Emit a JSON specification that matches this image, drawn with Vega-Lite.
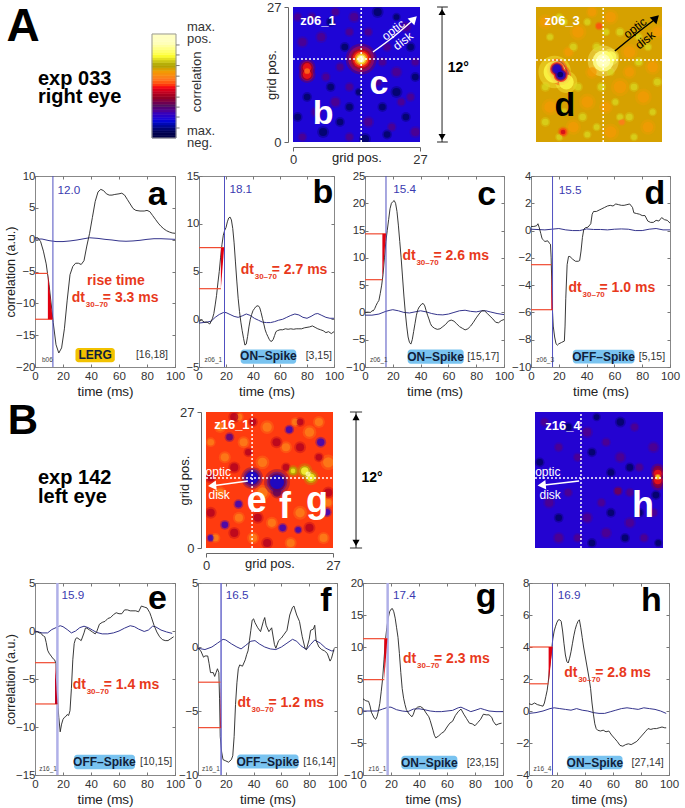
{"$schema":"https://vega.github.io/schema/vega-lite/v6.json","background":"white","padding":{"left":3,"top":1,"right":0,"bottom":0},
"config":{"font":"Liberation Sans","view":{"stroke":null},"axisX":{"labelPadding":6},"axis":{"domain":false,"grid":false,"tickSize":-3,"tickColor":"#777","labelFontSize":11.5,"labelColor":"#333","labelPadding":3,"labelOverlap":false,"labelBound":false,"labelFlush":false,"titleFontSize":13.5,"titleFontWeight":"normal","titleColor":"#222","titlePadding":3},
"style":{"L":{"fontSize":34,"fontWeight":"bold","align":"center","baseline":"alphabetic","color":"#000"},"B":{"fontSize":11.7,"align":"left","color":"#3a3ab0"},"Z":{"fontSize":6.5,"align":"left","color":"#444"},"K":{"fontSize":10.5,"align":"right","color":"#333"},"Q":{"fontSize":12,"fontWeight":"bold","align":"center","color":"#10203a"},"dt":{"fontSize":14,"fontWeight":"bold","align":"left","color":"#e8391c"},"sub":{"fontSize":8,"fontWeight":"bold","align":"left","color":"#e8391c","dx":14,"dy":7},"eq":{"fontSize":14,"fontWeight":"bold","align":"left","color":"#e8391c","dx":31},"R":{"fontSize":14,"fontWeight":"bold","align":"center","color":"#e8391c"},"big":{"fontSize":20,"fontWeight":"bold","align":"left","color":"#000"},"cap":{"fontSize":13,"align":"left","color":"#333"}}},
"datasets":{
"cb":[{"t":0,"t2":1,"v":-0.975,"a":-1,"b":-0.95},{"t":0,"t2":1,"v":-0.925,"a":-0.95,"b":-0.9},{"t":0,"t2":1,"v":-0.875,"a":-0.9,"b":-0.85},{"t":0,"t2":1,"v":-0.825,"a":-0.85,"b":-0.8},{"t":0,"t2":1,"v":-0.775,"a":-0.8,"b":-0.75},{"t":0,"t2":1,"v":-0.725,"a":-0.75,"b":-0.7},{"t":0,"t2":1,"v":-0.675,"a":-0.7,"b":-0.65},{"t":0,"t2":1,"v":-0.625,"a":-0.65,"b":-0.6},{"t":0,"t2":1,"v":-0.575,"a":-0.6,"b":-0.55},{"t":0,"t2":1,"v":-0.525,"a":-0.55,"b":-0.5},{"t":0,"t2":1,"v":-0.475,"a":-0.5,"b":-0.45},{"t":0,"t2":1,"v":-0.425,"a":-0.45,"b":-0.4},{"t":0,"t2":1,"v":-0.375,"a":-0.4,"b":-0.35},{"t":0,"t2":1,"v":-0.325,"a":-0.35,"b":-0.3},{"t":0,"t2":1,"v":-0.275,"a":-0.3,"b":-0.25},{"t":0,"t2":1,"v":-0.225,"a":-0.25,"b":-0.2},{"t":0,"t2":1,"v":-0.175,"a":-0.2,"b":-0.15},{"t":0,"t2":1,"v":-0.125,"a":-0.15,"b":-0.1},{"t":0,"t2":1,"v":-0.075,"a":-0.1,"b":-0.05},{"t":0,"t2":1,"v":-0.025,"a":-0.05,"b":0},{"t":0,"t2":1,"v":0.025,"a":0,"b":0.05},{"t":0,"t2":1,"v":0.075,"a":0.05,"b":0.1},{"t":0,"t2":1,"v":0.125,"a":0.1,"b":0.15},{"t":0,"t2":1,"v":0.175,"a":0.15,"b":0.2},{"t":0,"t2":1,"v":0.225,"a":0.2,"b":0.25},{"t":0,"t2":1,"v":0.275,"a":0.25,"b":0.3},{"t":0,"t2":1,"v":0.325,"a":0.3,"b":0.35},{"t":0,"t2":1,"v":0.375,"a":0.35,"b":0.4},{"t":0,"t2":1,"v":0.425,"a":0.4,"b":0.45},{"t":0,"t2":1,"v":0.475,"a":0.45,"b":0.5},{"t":0,"t2":1,"v":0.525,"a":0.5,"b":0.55},{"t":0,"t2":1,"v":0.575,"a":0.55,"b":0.6},{"t":0,"t2":1,"v":0.625,"a":0.6,"b":0.65},{"t":0,"t2":1,"v":0.675,"a":0.65,"b":0.7},{"t":0,"t2":1,"v":0.725,"a":0.7,"b":0.75},{"t":0,"t2":1,"v":0.775,"a":0.75,"b":0.8},{"t":0,"t2":1,"v":0.825,"a":0.8,"b":0.85},{"t":0,"t2":1,"v":0.875,"a":0.85,"b":0.9},{"t":0,"t2":1,"v":0.925,"a":0.9,"b":0.95},{"t":0,"t2":1,"v":0.975,"a":0.95,"b":1}],
"cbb":[{"t":0,"t2":1,"a":-1,"b":1}],
"cbt":[{"t":1,"t2":1.15,"v":0.789},{"t":1,"t2":1.15,"v":0.597},{"t":1,"t2":1.15,"v":0.393},{"t":1,"t2":1.15,"v":0.189},{"t":1,"t2":1.15,"v":-0.003},{"t":1,"t2":1.15,"v":-0.214},{"t":1,"t2":1.15,"v":-0.406},{"t":1,"t2":1.15,"v":-0.597},{"t":1,"t2":1.15,"v":-0.808}],
"an1":[{"k":"A","t":-5.375,"v":1.14,"s":"A"},{"k":"E","t":-4.75,"v":0.135,"s":"exp 033"},{"k":"E","t":-4.75,"v":-0.21,"s":"right eye"},{"k":"c","t":1.46,"v":1.135,"s":"max."},{"k":"c","t":1.46,"v":0.904,"s":"pos."},{"k":"c","t":1.46,"v":-0.865,"s":"max."},{"k":"c","t":1.46,"v":-1.096,"s":"neg."},{"k":"r","t":1.875,"v":0.077,"s":"correlation"}],
"an3":[{"k":"A","t":-0.07,"v":0.934,"s":"B"},{"k":"E","t":0.0175,"v":0.515,"s":"exp 142"},{"k":"E","t":0.0175,"v":0.375,"s":"left eye"}],
"ar1":[{"k":"s","x":0.19,"y":0,"y2":12},{"k":"c","x":0.147,"x2":0.24,"y":12},{"k":"c","x":0.147,"x2":0.24,"y":0},{"k":"u","x":0.19,"y":11.55},{"k":"d","x":0.19,"y":0.45},{"k":"l","x":0.33,"y":6.6,"s":"12°"}],
"ar3":[{"k":"s","x":0.114,"y":0,"y2":12},{"k":"c","x":0.084,"x2":0.144,"y":12},{"k":"c","x":0.084,"x2":0.144,"y":0},{"k":"u","x":0.114,"y":11.55},{"k":"d","x":0.114,"y":0.45},{"k":"l","x":0.193,"y":6.2,"s":"12°"}],
"h1":[{"x":13,"y":25,"v":-0.45,"w":3},{"x":6,"y":21,"v":-0.45,"w":3},{"x":24,"y":23,"v":-0.45,"w":3},{"x":19,"y":16,"v":-0.45,"w":2},{"x":22,"y":14,"v":-0.45,"w":3},{"x":10,"y":15,"v":-0.45,"w":2},{"x":2,"y":20,"v":-0.45,"w":3},{"x":16,"y":4,"v":-0.45,"w":3},{"x":23,"y":8,"v":-0.45,"w":2},{"x":5,"y":6,"v":-0.45,"w":3},{"x":12,"y":1,"v":-0.45,"w":2},{"x":26,"y":2,"v":-0.45,"w":3},{"x":18,"y":12,"v":-0.45,"w":2},{"x":9,"y":8,"v":-0.45,"w":3},{"x":25,"y":9,"v":-0.45,"w":2},{"x":2,"y":1,"v":-0.45,"w":2},{"x":20,"y":19,"v":-0.45,"w":2},{"x":1,"y":25,"v":-0.45,"w":2},{"x":16,"y":22,"v":-0.45,"w":2},{"x":9,"y":26,"v":-0.45,"w":2},{"x":12,"y":11,"v":-0.45,"w":2},{"x":21,"y":3,"v":-0.45,"w":2},{"x":4,"y":25,"v":-0.45,"w":2},{"x":12,"y":22,"v":-0.45,"w":2},{"x":26,"y":16,"v":-0.45,"w":2},{"x":7,"y":13,"v":-0.45,"w":2},{"x":18,"y":26,"v":-0.86,"w":3},{"x":22,"y":10,"v":-0.86,"w":3},{"x":15.3,"y":0.6,"v":-0.86,"w":3},{"x":6.4,"y":2,"v":-0.86,"w":3},{"x":3,"y":9,"v":-0.86,"w":2},{"x":1,"y":5,"v":-0.86,"w":2},{"x":10,"y":4,"v":-0.86,"w":2},{"x":24,"y":5,"v":-0.86,"w":2},{"x":19,"y":7,"v":-0.86,"w":2},{"x":12,"y":7,"v":-0.86,"w":2},{"x":25,"y":19,"v":-0.86,"w":2},{"x":8,"y":24,"v":-0.86,"w":2},{"x":22,"y":25,"v":-0.86,"w":1.5},{"x":11,"y":19,"v":-0.86,"w":2},{"x":26,"y":13,"v":-0.86,"w":2},{"x":20,"y":1.5,"v":-0.86,"w":2},{"x":8,"y":11,"v":-0.86,"w":2},{"x":14,"y":10,"v":-0.86,"w":1.5},{"x":3,"y":14.9,"v":-0.2,"w":6},{"x":3,"y":13.5,"v":-0.2,"w":6},{"x":3,"y":14.9,"v":0,"w":3.5},{"x":3,"y":13.5,"v":0,"w":3.5},{"x":3,"y":14.2,"v":0.13,"w":1.5},{"x":14.5,"y":16.6,"v":-0.2,"w":20},{"x":14.5,"y":16.6,"v":0,"w":14},{"x":14.5,"y":16.6,"v":0.2,"w":9},{"x":14.5,"y":16.6,"v":0.55,"w":5},{"x":14.5,"y":16.6,"v":0.85,"w":2.5},{"x":14.5,"y":16.6,"v":1,"w":1.2}],
"t1":[{"k":"V","x":14.5,"y":0,"y2":27},{"k":"H","x":0,"x2":27,"y":16.6},{"k":"a","x":17,"y":18},{"k":"a","x":21.3,"y":21},{"k":"a","x":25.3,"y":24.2},{"k":"T","x":25.5,"y":24.4},{"k":"o","x":21.3,"y":22.4,"s":"optic"},{"k":"o","x":23.4,"y":20.2,"s":"disk"},{"k":"z","x":5.3,"y":24.2,"s":"z06_1"},{"k":"l","x":6.4,"y":5.6,"s":"b"},{"k":"l","x":18.3,"y":11.6,"s":"c"}],
"h2":[{"x":2,"y":24,"v":0.27,"w":5},{"x":9,"y":22,"v":0.27,"w":6},{"x":16,"y":25,"v":0.27,"w":5},{"x":20,"y":18,"v":0.27,"w":6},{"x":25,"y":15,"v":0.27,"w":5},{"x":18,"y":11,"v":0.27,"w":7},{"x":23,"y":9,"v":0.27,"w":6},{"x":11,"y":8,"v":0.27,"w":6},{"x":3,"y":7,"v":0.27,"w":6},{"x":8,"y":3,"v":0.27,"w":5},{"x":16,"y":2,"v":0.27,"w":6},{"x":24,"y":3,"v":0.27,"w":5},{"x":12,"y":14,"v":0.27,"w":4},{"x":20,"y":14,"v":0.27,"w":4},{"x":26,"y":22,"v":0.27,"w":4},{"x":12,"y":26,"v":0.27,"w":3},{"x":7,"y":18,"v":0.27,"w":3},{"x":15,"y":7,"v":0.27,"w":4},{"x":3,"y":21,"v":0.5,"w":1.5},{"x":5,"y":25,"v":0.5,"w":1.5},{"x":8,"y":19,"v":0.5,"w":2},{"x":11,"y":24,"v":0.5,"w":1.5},{"x":13,"y":19,"v":0.5,"w":2},{"x":18,"y":22,"v":0.5,"w":2},{"x":22,"y":16,"v":0.5,"w":2},{"x":26,"y":12,"v":0.5,"w":2},{"x":21,"y":11,"v":0.5,"w":2},{"x":17,"y":8,"v":0.5,"w":1.5},{"x":14,"y":11,"v":0.5,"w":2},{"x":9,"y":11,"v":0.5,"w":2},{"x":2,"y":11,"v":0.5,"w":2},{"x":2,"y":4,"v":0.5,"w":2},{"x":10,"y":5,"v":0.5,"w":2},{"x":13,"y":3,"v":0.5,"w":1.5},{"x":20,"y":5,"v":0.5,"w":2},{"x":25,"y":6,"v":0.5,"w":1.5},{"x":5,"y":1,"v":0.5,"w":1.5},{"x":21,"y":1,"v":0.5,"w":1.5},{"x":24,"y":19,"v":0.5,"w":1.5},{"x":16,"y":14,"v":0.5,"w":1.5},{"x":6,"y":24,"v":0.5,"w":1.5},{"x":15,"y":22,"v":0.5,"w":1.5},{"x":22,"y":21,"v":0.5,"w":1.5},{"x":11,"y":1.5,"v":0.5,"w":1.5},{"x":18,"y":5,"v":0.5,"w":1.5},{"x":6,"y":6,"v":0.5,"w":1.5},{"x":4,"y":14,"v":0.62,"w":22},{"x":6.5,"y":12,"v":0.62,"w":10},{"x":4.5,"y":14.6,"v":0,"w":9},{"x":5.3,"y":13.4,"v":0,"w":9},{"x":4.5,"y":14.6,"v":-0.4,"w":6},{"x":5.3,"y":13.4,"v":-0.4,"w":6},{"x":4.5,"y":14.6,"v":-0.65,"w":3.5},{"x":5.3,"y":13.4,"v":-0.65,"w":3.5},{"x":5.2,"y":13.5,"v":-0.92,"w":1.5},{"x":14.4,"y":16.2,"v":0.72,"w":20},{"x":16,"y":17,"v":0.65,"w":6},{"x":14.4,"y":16.2,"v":0.9,"w":9},{"x":14.4,"y":16.2,"v":1,"w":4},{"x":5.8,"y":2,"v":0.05,"w":2.5},{"x":5.8,"y":2,"v":-0.1,"w":1},{"x":13.5,"y":23.2,"v":0.05,"w":1.5},{"x":18.4,"y":4,"v":0.14,"w":1.2}],
"t2":[{"k":"V","x":14.4,"y":0,"y2":27},{"k":"H","x":0,"x2":27,"y":16.4},{"k":"a","x":16.9,"y":18.2},{"k":"a","x":21.4,"y":21.6},{"k":"a","x":25.3,"y":24.4},{"k":"T","x":25.5,"y":24.6},{"k":"o","x":21.2,"y":22.8,"s":"optic"},{"k":"o","x":23.4,"y":20.4,"s":"disk"},{"k":"z","x":5.6,"y":24.2,"s":"z06_3"},{"k":"l","x":6.2,"y":7.2,"s":"d"}],
"h3":[{"x":3,"y":24,"v":0.17,"w":3},{"x":8,"y":21,"v":0.17,"w":3},{"x":13,"y":24,"v":0.17,"w":4},{"x":17,"y":20,"v":0.17,"w":3},{"x":22,"y":23,"v":0.17,"w":4},{"x":26,"y":17,"v":0.17,"w":5},{"x":24,"y":25,"v":0.17,"w":3},{"x":4,"y":18,"v":0.17,"w":3},{"x":12,"y":17,"v":0.17,"w":4},{"x":12,"y":11,"v":0.17,"w":5},{"x":3,"y":11,"v":0.17,"w":3},{"x":7,"y":6,"v":0.17,"w":3},{"x":14,"y":5,"v":0.17,"w":3},{"x":20,"y":7,"v":0.17,"w":4},{"x":25,"y":2,"v":0.17,"w":3},{"x":10,"y":2,"v":0.17,"w":3},{"x":18,"y":1,"v":0.17,"w":3},{"x":2,"y":2,"v":0.17,"w":2},{"x":19,"y":25,"v":0.17,"w":2},{"x":7,"y":26,"v":0.17,"w":2},{"x":26,"y":9,"v":0.17,"w":2},{"x":1,"y":21,"v":0.17,"w":2},{"x":6,"y":26,"v":-0.15,"w":3},{"x":10,"y":25,"v":-0.15,"w":2},{"x":20,"y":25,"v":-0.15,"w":2},{"x":15,"y":21,"v":-0.15,"w":3},{"x":6,"y":16,"v":-0.15,"w":3},{"x":20,"y":20,"v":-0.15,"w":3},{"x":1,"y":14,"v":-0.15,"w":3},{"x":6,"y":3,"v":-0.15,"w":3},{"x":11,"y":6,"v":-0.15,"w":3},{"x":22,"y":4,"v":-0.15,"w":3},{"x":13,"y":1,"v":-0.15,"w":3},{"x":26,"y":11,"v":-0.15,"w":3},{"x":1,"y":7,"v":-0.15,"w":3},{"x":17,"y":16,"v":-0.15,"w":2},{"x":24,"y":18,"v":-0.15,"w":2},{"x":9,"y":19,"v":-0.15,"w":2},{"x":5,"y":22,"v":-0.45,"w":2},{"x":17.7,"y":23.5,"v":-0.55,"w":2},{"x":24.4,"y":21,"v":-0.55,"w":2.5},{"x":6.9,"y":8.7,"v":-0.55,"w":2},{"x":4,"y":4.6,"v":-0.55,"w":2},{"x":16.3,"y":4,"v":-0.55,"w":2},{"x":19.6,"y":3.6,"v":-0.55,"w":1.5},{"x":25.7,"y":7.1,"v":-0.55,"w":2},{"x":1,"y":2,"v":-0.55,"w":1.5},{"x":15.1,"y":13.1,"v":-0.35,"w":14},{"x":15.1,"y":11,"v":-0.35,"w":3},{"x":9.8,"y":13.9,"v":-0.4,"w":10},{"x":9.8,"y":13.9,"v":-0.66,"w":7},{"x":15.1,"y":13.1,"v":-0.66,"w":9},{"x":18.5,"y":15.3,"v":0.38,"w":3},{"x":18.5,"y":15.3,"v":0.55,"w":1},{"x":21,"y":15.3,"v":0.38,"w":5},{"x":22.3,"y":14,"v":0.38,"w":5},{"x":21,"y":15.3,"v":0.6,"w":2.5},{"x":22.3,"y":14,"v":0.6,"w":2.5},{"x":21.7,"y":14.7,"v":0.8,"w":1.2}],
"t3":[{"k":"V","x":9.8,"y":0,"y2":27},{"k":"H","x":0,"x2":27,"y":13.9},{"k":"a","x":8.9,"y":13.3},{"k":"a","x":1.9,"y":12.4},{"k":"T","x":1.6,"y":12.4},{"k":"o","x":2.6,"y":15,"s":"optic"},{"k":"o","x":2.8,"y":10.5,"s":"disk"},{"k":"z","x":5.5,"y":24.4,"s":"z16_1"},{"k":"l","x":10.8,"y":9.3,"s":"e"},{"k":"l","x":16.8,"y":8.1,"s":"f"},{"k":"l","x":23.6,"y":9.3,"s":"g"}],
"h4":[{"x":11,"y":23,"v":-0.45,"w":3},{"x":15,"y":21,"v":-0.45,"w":2},{"x":5,"y":20,"v":-0.45,"w":2},{"x":21,"y":24,"v":-0.45,"w":2},{"x":25,"y":20,"v":-0.45,"w":3},{"x":9,"y":18,"v":-0.45,"w":2},{"x":18,"y":18,"v":-0.45,"w":3},{"x":22,"y":16,"v":-0.45,"w":2},{"x":3,"y":9,"v":-0.45,"w":3},{"x":7,"y":11,"v":-0.45,"w":2},{"x":14,"y":9,"v":-0.45,"w":2},{"x":17.5,"y":11.3,"v":-0.3,"w":2},{"x":11,"y":6,"v":-0.45,"w":3},{"x":20,"y":5,"v":-0.45,"w":3},{"x":25,"y":7,"v":-0.45,"w":2},{"x":15,"y":3,"v":-0.45,"w":3},{"x":5,"y":2,"v":-0.45,"w":3},{"x":23,"y":2,"v":-0.45,"w":2},{"x":9,"y":2,"v":-0.45,"w":2},{"x":2,"y":25,"v":-0.45,"w":2},{"x":20,"y":11,"v":-0.45,"w":2},{"x":18,"y":25,"v":-0.86,"w":2.5},{"x":20,"y":16,"v":-0.86,"w":2},{"x":1,"y":17,"v":-0.86,"w":2},{"x":7,"y":24,"v":-0.86,"w":2},{"x":13,"y":26,"v":-0.86,"w":1.5},{"x":12,"y":19,"v":-0.86,"w":2},{"x":16,"y":15,"v":-0.86,"w":2},{"x":25.5,"y":10.5,"v":-0.86,"w":2},{"x":16,"y":7,"v":-0.86,"w":2},{"x":22,"y":7,"v":-0.86,"w":2},{"x":5,"y":6,"v":-0.86,"w":2},{"x":12,"y":1,"v":-0.86,"w":2},{"x":19,"y":2,"v":-0.86,"w":2},{"x":26,"y":1,"v":-0.86,"w":1.5},{"x":25.9,"y":12.8,"v":-0.25,"w":4},{"x":25.9,"y":14.1,"v":-0.25,"w":4},{"x":25.9,"y":15.4,"v":-0.25,"w":4},{"x":25.9,"y":13.4,"v":0,"w":2.5},{"x":25.9,"y":14.8,"v":0,"w":2.5},{"x":25.9,"y":14.1,"v":0.2,"w":1.5},{"x":25.9,"y":14.1,"v":0.55,"w":0.7}],
"t4":[{"k":"V","x":9.7,"y":0,"y2":27},{"k":"H","x":0,"x2":27,"y":13.9},{"k":"a","x":9.3,"y":13.3},{"k":"a","x":2,"y":12.5},{"k":"T","x":1.7,"y":12.5},{"k":"o","x":2.7,"y":15.1,"s":"optic"},{"k":"o","x":3.2,"y":10.5,"s":"disk"},{"k":"z","x":5.9,"y":24.2,"s":"z16_4"},{"k":"l","x":22.8,"y":8.3,"s":"h"}],
"a":[{"t":0,"v":0.3},{"t":2,"v":0.3},{"t":4,"v":-0.3},{"t":6,"v":-1.8},{"t":8,"v":-3.8},{"t":10,"v":-7},{"t":12,"v":-11},{"t":13,"v":-13},{"t":15,"v":-16.5},{"t":17,"v":-17.8},{"t":19,"v":-17},{"t":21,"v":-14},{"t":23,"v":-9.5},{"t":25,"v":-5.5},{"t":27,"v":-4.2},{"t":29,"v":-3.7},{"t":31,"v":-3.7},{"t":33,"v":-3.9},{"t":35,"v":-3.3},{"t":37,"v":-1},{"t":39,"v":1},{"t":41,"v":3.5},{"t":43,"v":6},{"t":45,"v":7.5},{"t":47,"v":7.9},{"t":49,"v":7.7},{"t":51,"v":7.2},{"t":53,"v":7},{"t":55,"v":7},{"t":57,"v":7.1},{"t":60,"v":7.2},{"t":62,"v":7.3},{"t":64,"v":7},{"t":66,"v":6.3},{"t":68,"v":5.6},{"t":70,"v":4.9},{"t":72,"v":4.6},{"t":75,"v":4.5},{"t":78,"v":4.5},{"t":80,"v":4.6},{"t":82,"v":4.4},{"t":84,"v":3.8},{"t":86,"v":3.2},{"t":88,"v":2.6},{"t":90,"v":2.1},{"t":92,"v":1.7},{"t":94,"v":1.4},{"t":96,"v":1.2},{"t":98,"v":1.05},{"t":100,"v":1}],
"a_n":[{"t":0,"v":0.1},{"t":5,"v":0.1},{"t":10,"v":-0.15},{"t":15,"v":-0.3},{"t":20,"v":-0.3},{"t":25,"v":-0.2},{"t":30,"v":-0.05},{"t":35,"v":0.15},{"t":39,"v":0.3},{"t":45,"v":0.2},{"t":50,"v":0.05},{"t":55,"v":-0.05},{"t":60,"v":-0.2},{"t":65,"v":-0.25},{"t":70,"v":-0.2},{"t":75,"v":-0.1},{"t":80,"v":0.05},{"t":85,"v":0.15},{"t":90,"v":0.15},{"t":95,"v":0.1},{"t":100,"v":0.05}],
"a_m":[{"k":"m","t":12.8,"v":-20,"v2":10},{"k":"h","t":0,"t2":9.2,"v":-5.3},{"k":"h","t":0,"t2":12.6,"v":-12.5},{"k":"w","t":9.2,"t2":9.2,"v":-5.3},{"k":"w","t":9.2,"t2":12.6,"v":-12.5},{"k":"P","t":28.9,"t2":57,"v":-17,"v2":-19.27},{"k":"Q","t":43,"v":-18.1,"s":"LERG"},{"k":"K","t":95,"v":-18.1,"s":"[16,18]"},{"k":"Z","t":5,"v":-18.85,"s":"b06"},{"k":"B","t":16.1,"v":7.75,"s":"12.0"},{"k":"L","t":87.2,"v":5.46,"s":"a"},{"k":"D","t":26.3,"v":-9.1,"s":"= 3.3 ms"},{"k":"R","t":57.8,"v":-6.5,"s":"rise time"}],
"b":[{"t":0,"v":-0.2},{"t":2,"v":-0.1},{"t":4,"v":-0.3},{"t":6,"v":-0.3},{"t":8,"v":-0.5},{"t":9,"v":-0.2},{"t":10,"v":0.1},{"t":11,"v":0.6},{"t":12,"v":1.5},{"t":13,"v":2.5},{"t":14,"v":3.8},{"t":15,"v":5},{"t":16,"v":6.5},{"t":17,"v":7.8},{"t":18,"v":8.8},{"t":19,"v":9.3},{"t":20,"v":9.6},{"t":21,"v":10.2},{"t":22,"v":10.6},{"t":23,"v":10.7},{"t":24,"v":10.4},{"t":25,"v":9.5},{"t":26,"v":8},{"t":27,"v":6},{"t":28,"v":4},{"t":29,"v":2.2},{"t":30,"v":0.8},{"t":31,"v":-0.3},{"t":32,"v":-1.2},{"t":33,"v":-2},{"t":34,"v":-2.7},{"t":35,"v":-2.6},{"t":36,"v":-1.8},{"t":37,"v":-0.8},{"t":38,"v":0},{"t":39,"v":0.5},{"t":40,"v":0.9},{"t":41,"v":1.1},{"t":42,"v":1.3},{"t":43,"v":1.4},{"t":44,"v":1.4},{"t":45,"v":1.2},{"t":46,"v":0.7},{"t":47,"v":0.1},{"t":48,"v":-0.5},{"t":49,"v":-1.1},{"t":50,"v":-1.5},{"t":51,"v":-1.8},{"t":52,"v":-2.1},{"t":53,"v":-2.3},{"t":54,"v":-2.3},{"t":55,"v":-2.1},{"t":56,"v":-1.7},{"t":57,"v":-1.3},{"t":58,"v":-1.2},{"t":60,"v":-1.1},{"t":62,"v":-1.1},{"t":64,"v":-1},{"t":66,"v":-1.05},{"t":68,"v":-1},{"t":70,"v":-1.05},{"t":72,"v":-1},{"t":74,"v":-1},{"t":76,"v":-1},{"t":78,"v":-0.9},{"t":80,"v":-0.85},{"t":82,"v":-0.8},{"t":84,"v":-0.7},{"t":86,"v":-0.85},{"t":88,"v":-1},{"t":90,"v":-1.1},{"t":92,"v":-1.2},{"t":94,"v":-1.4},{"t":96,"v":-1.3},{"t":98,"v":-1.5},{"t":100,"v":-1.3}],
"b_n":[{"t":0,"v":-0.4},{"t":3,"v":-0.35},{"t":6,"v":-0.3},{"t":9,"v":-0.2},{"t":12,"v":0.2},{"t":15,"v":0.5},{"t":18,"v":0.7},{"t":20,"v":0.7},{"t":23,"v":0.5},{"t":26,"v":0.3},{"t":29,"v":0.2},{"t":32,"v":0.35},{"t":35,"v":0.55},{"t":38,"v":0.4},{"t":41,"v":0.1},{"t":44,"v":-0.1},{"t":47,"v":-0.3},{"t":50,"v":-0.35},{"t":53,"v":-0.35},{"t":56,"v":-0.25},{"t":59,"v":-0.1},{"t":62,"v":0},{"t":65,"v":0.2},{"t":68,"v":0.4},{"t":71,"v":0.55},{"t":74,"v":0.45},{"t":77,"v":0.2},{"t":80,"v":0.1},{"t":83,"v":0.3},{"t":86,"v":0.55},{"t":88,"v":0.6},{"t":91,"v":0.4},{"t":94,"v":0.2},{"t":97,"v":0.1},{"t":100,"v":0.1}],
"b_m":[{"k":"m","t":18.9,"v":-5,"v2":15},{"k":"h","t":0,"t2":18.6,"v":7.5},{"k":"h","t":0,"t2":16.2,"v":3.2},{"k":"w","t":16.2,"t2":18.6,"v":7.5},{"k":"w","t":16.2,"t2":16.2,"v":3.2},{"k":"P","t":30.9,"t2":72,"v":-3.18,"v2":-4.65},{"k":"Q","t":51.4,"v":-3.9,"s":"ON–Spike"},{"k":"K","t":98.5,"v":-3.9,"s":"[3,15]"},{"k":"Z","t":4,"v":-4.3,"s":"z06_1"},{"k":"B","t":22.5,"v":13.6,"s":"18.1"},{"k":"L","t":91.7,"v":12.2,"s":"b"},{"k":"D","t":30.9,"v":5.2,"s":"= 2.7 ms"}],
"c":[{"t":0,"v":0},{"t":2,"v":0.05},{"t":4,"v":0},{"t":5,"v":0.3},{"t":6,"v":0.3},{"t":7,"v":0.7},{"t":8,"v":1.3},{"t":9,"v":1.8},{"t":10,"v":2.2},{"t":11,"v":3.5},{"t":12,"v":5},{"t":13,"v":7},{"t":14,"v":10},{"t":15,"v":13},{"t":16,"v":15},{"t":17,"v":17},{"t":18,"v":19},{"t":19,"v":20},{"t":20,"v":20.3},{"t":21,"v":20.5},{"t":22,"v":20},{"t":23,"v":18.5},{"t":24,"v":16},{"t":25,"v":13},{"t":26,"v":10},{"t":27,"v":6.5},{"t":28,"v":3},{"t":29,"v":0},{"t":30,"v":-2.5},{"t":31,"v":-4.5},{"t":32,"v":-5.5},{"t":33,"v":-5.8},{"t":34,"v":-5},{"t":35,"v":-3.5},{"t":36,"v":-2},{"t":37,"v":-0.5},{"t":38,"v":0.5},{"t":39,"v":1},{"t":41,"v":1.6},{"t":42,"v":1.6},{"t":43,"v":1.2},{"t":44,"v":0.3},{"t":45,"v":-0.5},{"t":46,"v":-1.2},{"t":47,"v":-2},{"t":48,"v":-2.5},{"t":50,"v":-2.9},{"t":52,"v":-3.1},{"t":54,"v":-3},{"t":56,"v":-2.6},{"t":58,"v":-2.2},{"t":60,"v":-1.6},{"t":62,"v":-1.4},{"t":64,"v":-1.6},{"t":66,"v":-2.1},{"t":68,"v":-2.6},{"t":70,"v":-2.9},{"t":72,"v":-3.2},{"t":74,"v":-3},{"t":76,"v":-2.5},{"t":78,"v":-1.8},{"t":80,"v":-1},{"t":82,"v":-0.3},{"t":84,"v":0.3},{"t":86,"v":0.3},{"t":88,"v":-0.2},{"t":90,"v":-0.7},{"t":92,"v":-1.2},{"t":94,"v":-1.8},{"t":96,"v":-1.9},{"t":98,"v":-1.5},{"t":100,"v":-1.3}],
"c_n":[{"t":0,"v":-0.5},{"t":5,"v":-0.5},{"t":10,"v":-0.3},{"t":15,"v":0.2},{"t":18,"v":0.4},{"t":20,"v":0.5},{"t":24,"v":0.3},{"t":28,"v":0},{"t":32,"v":-0.1},{"t":36,"v":0.1},{"t":40,"v":0.3},{"t":44,"v":0.1},{"t":48,"v":-0.2},{"t":52,"v":-0.4},{"t":56,"v":-0.45},{"t":60,"v":-0.3},{"t":64,"v":0},{"t":68,"v":0.3},{"t":72,"v":0.4},{"t":76,"v":0.2},{"t":80,"v":0.1},{"t":84,"v":0.3},{"t":87,"v":0.3},{"t":90,"v":0.1},{"t":95,"v":-0.2},{"t":100,"v":-0.4}],
"c_m":[{"k":"m","t":15.1,"v":-10,"v2":25},{"k":"h","t":0,"t2":15.1,"v":14.4},{"k":"h","t":0,"t2":12.5,"v":6},{"k":"w","t":12.5,"t2":15.1,"v":14.4},{"k":"w","t":12.5,"t2":12.5,"v":6},{"k":"P","t":30.7,"t2":71,"v":-6.8,"v2":-9.4},{"k":"Q","t":50.8,"v":-8.1,"s":"ON–Spike"},{"k":"K","t":96.6,"v":-8.1,"s":"[15,17]"},{"k":"Z","t":3.6,"v":-8.8,"s":"z06_1"},{"k":"B","t":20.4,"v":22.55,"s":"15.4"},{"k":"L","t":87.5,"v":19.7,"s":"c"},{"k":"D","t":26.9,"v":10.3,"s":"= 2.6 ms"}],
"d":[{"t":0,"v":0.3},{"t":2,"v":0.3},{"t":4,"v":0.35},{"t":5,"v":0.5},{"t":6,"v":0.2},{"t":7,"v":-0.2},{"t":8,"v":-0.6},{"t":9,"v":-0.7},{"t":10,"v":-0.8},{"t":12,"v":-0.75},{"t":13,"v":-0.9},{"t":14,"v":-1},{"t":14.5,"v":-2},{"t":15,"v":-4},{"t":15.5,"v":-6},{"t":16,"v":-7},{"t":17,"v":-7.8},{"t":18,"v":-8.3},{"t":19,"v":-8.4},{"t":20,"v":-8.3},{"t":22,"v":-8.2},{"t":24,"v":-8.1},{"t":24.5,"v":-7},{"t":25,"v":-5},{"t":26,"v":-2.5},{"t":27,"v":-1.9},{"t":28,"v":-1.9},{"t":30,"v":-2.1},{"t":32,"v":-2.25},{"t":34,"v":-2.25},{"t":35,"v":-2.2},{"t":36,"v":-1.5},{"t":37,"v":-0.5},{"t":38,"v":0.1},{"t":39,"v":0.2},{"t":41,"v":0.25},{"t":43,"v":0.5},{"t":44,"v":1.2},{"t":45,"v":1.4},{"t":47,"v":1.4},{"t":49,"v":1.5},{"t":51,"v":1.6},{"t":53,"v":1.7},{"t":55,"v":1.8},{"t":57,"v":1.85},{"t":59,"v":1.8},{"t":61,"v":1.95},{"t":63,"v":1.9},{"t":65,"v":1.85},{"t":67,"v":1.85},{"t":69,"v":1.9},{"t":71,"v":1.95},{"t":73,"v":1.7},{"t":74,"v":1.3},{"t":76,"v":1.25},{"t":78,"v":1.2},{"t":80,"v":1.1},{"t":82,"v":1.1},{"t":84,"v":0.7},{"t":86,"v":0.6},{"t":88,"v":0.6},{"t":90,"v":0.75},{"t":92,"v":0.7},{"t":94,"v":0.95},{"t":96,"v":0.8},{"t":98,"v":0.75},{"t":100,"v":0.55}],
"d_n":[{"t":0,"v":0.1},{"t":10,"v":0.05},{"t":15,"v":0.1},{"t":20,"v":0.15},{"t":25,"v":0.05},{"t":30,"v":0},{"t":35,"v":0},{"t":40,"v":0.12},{"t":45,"v":0.08},{"t":50,"v":0.08},{"t":55,"v":0.05},{"t":60,"v":0.1},{"t":65,"v":0.12},{"t":70,"v":0.1},{"t":75,"v":0},{"t":80,"v":0},{"t":85,"v":0.1},{"t":90,"v":0.15},{"t":95,"v":0.05},{"t":100,"v":0.05}],
"d_m":[{"k":"m","t":15.5,"v":-10,"v2":4},{"k":"h","t":0,"t2":14.6,"v":-2.5},{"k":"h","t":0,"t2":15.5,"v":-5.8},{"k":"w","t":14.6,"t2":14.6,"v":-2.5},{"k":"w","t":14.6,"t2":15.5,"v":-5.8},{"k":"P","t":30.1,"t2":74.4,"v":-8.73,"v2":-9.75},{"k":"Q","t":52.2,"v":-9.24,"s":"OFF–Spike"},{"k":"K","t":96.5,"v":-9.24,"s":"[5,15]"},{"k":"Z","t":3.8,"v":-9.5,"s":"z06_3"},{"k":"B","t":19.9,"v":3,"s":"15.5"},{"k":"L","t":89.2,"v":1.94,"s":"d"},{"k":"D","t":27,"v":-4.2,"s":"= 1.0 ms"}],
"e":[{"t":0,"v":-0.1},{"t":2,"v":-0.1},{"t":3,"v":-0.2},{"t":4,"v":-0.2},{"t":5,"v":-0.4},{"t":6,"v":-0.5},{"t":7,"v":-0.6},{"t":8,"v":-1.2},{"t":9,"v":-2},{"t":10,"v":-2.3},{"t":11,"v":-2.5},{"t":12,"v":-2.7},{"t":13,"v":-2.9},{"t":14,"v":-3},{"t":15,"v":-3.4},{"t":16,"v":-6},{"t":16.5,"v":-8},{"t":17,"v":-9},{"t":18,"v":-10.5},{"t":19,"v":-9.7},{"t":20,"v":-9.2},{"t":21,"v":-9},{"t":22,"v":-8.9},{"t":23,"v":-8.7},{"t":24,"v":-8.8},{"t":25,"v":-8.3},{"t":26,"v":-6},{"t":27,"v":-3},{"t":28,"v":-1.3},{"t":29,"v":-0.8},{"t":30,"v":-0.7},{"t":32,"v":-0.9},{"t":33,"v":-1},{"t":35,"v":-0.2},{"t":36,"v":0.3},{"t":37,"v":0.3},{"t":39,"v":0.1},{"t":41,"v":-0.1},{"t":43,"v":-0.3},{"t":44,"v":-0.1},{"t":45,"v":0.3},{"t":46,"v":0.7},{"t":48,"v":0.9},{"t":50,"v":1},{"t":52,"v":1.3},{"t":54,"v":1.4},{"t":56,"v":1.7},{"t":58,"v":1.9},{"t":60,"v":1.8},{"t":62,"v":1.8},{"t":64,"v":2.2},{"t":66,"v":2.2},{"t":68,"v":2.1},{"t":70,"v":2.1},{"t":72,"v":2.1},{"t":74,"v":2},{"t":76,"v":2.6},{"t":78,"v":2.5},{"t":80,"v":2.4},{"t":82,"v":1.9},{"t":83,"v":1.5},{"t":85,"v":0.6},{"t":87,"v":-0.1},{"t":89,"v":-0.6},{"t":91,"v":-0.9},{"t":93,"v":-1},{"t":95,"v":-1},{"t":97,"v":-0.8},{"t":99,"v":-0.6}],
"e_n":[{"t":0,"v":0},{"t":5,"v":-0.2},{"t":9,"v":-0.2},{"t":12,"v":0.15},{"t":15,"v":0.35},{"t":18,"v":0.55},{"t":20,"v":0.45},{"t":23,"v":0.15},{"t":26,"v":-0.2},{"t":29,"v":0},{"t":32,"v":0.35},{"t":35,"v":0.5},{"t":38,"v":0.35},{"t":41,"v":0.1},{"t":44,"v":-0.15},{"t":48,"v":-0.3},{"t":52,"v":-0.3},{"t":56,"v":-0.2},{"t":60,"v":0},{"t":64,"v":0.3},{"t":68,"v":0.55},{"t":71,"v":0.45},{"t":74,"v":0.2},{"t":78,"v":-0.05},{"t":81,"v":0.1},{"t":84,"v":0.5},{"t":86,"v":0.45},{"t":90,"v":0.1},{"t":94,"v":-0.1},{"t":98,"v":-0.25}],
"e_m":[{"k":"m","t":16,"v":-15,"v2":5},{"k":"h","t":0,"t2":14.3,"v":-3.3},{"k":"h","t":0,"t2":16,"v":-7.6},{"k":"w","t":14.3,"t2":14.3,"v":-3.3},{"k":"w","t":14.3,"t2":16,"v":-7.6},{"k":"P","t":27.9,"t2":71.4,"v":-12.9,"v2":-14.4},{"k":"Q","t":49.6,"v":-13.65,"s":"OFF–Spike"},{"k":"K","t":98,"v":-13.65,"s":"[10,15]"},{"k":"Z","t":3,"v":-14.4,"s":"z16_1"},{"k":"B","t":19,"v":3.75,"s":"15.9"},{"k":"L","t":87.4,"v":2.3,"s":"e"},{"k":"D","t":26.9,"v":-5.6,"s":"= 1.4 ms"}],
"f":[{"t":0,"v":-0.1},{"t":2,"v":-0.3},{"t":4,"v":-0.8},{"t":5,"v":-0.7},{"t":7,"v":-0.7},{"t":8,"v":-1.3},{"t":9,"v":-2},{"t":10,"v":-2},{"t":11,"v":-2},{"t":12,"v":-2.3},{"t":13,"v":-2},{"t":14,"v":-1.7},{"t":15,"v":-2},{"t":15.5,"v":-4},{"t":16,"v":-7},{"t":17,"v":-8.2},{"t":18,"v":-8.8},{"t":20,"v":-8.9},{"t":22,"v":-9},{"t":24,"v":-8.8},{"t":25,"v":-8.5},{"t":26,"v":-7},{"t":27,"v":-4.5},{"t":28,"v":-2.8},{"t":29,"v":-1.7},{"t":30,"v":-1.4},{"t":32,"v":-1.5},{"t":34,"v":-1},{"t":35,"v":-0.6},{"t":36,"v":-0.3},{"t":37,"v":0.5},{"t":38,"v":1.3},{"t":39,"v":2.1},{"t":40,"v":2.2},{"t":41,"v":1.9},{"t":43,"v":1.5},{"t":45,"v":1.2},{"t":47,"v":2},{"t":48,"v":2.3},{"t":49,"v":1.7},{"t":51,"v":1.2},{"t":53,"v":1.5},{"t":55,"v":0.2},{"t":56,"v":-0.1},{"t":58,"v":0.5},{"t":60,"v":0.7},{"t":62,"v":1},{"t":64,"v":1.3},{"t":66,"v":2.5},{"t":68,"v":3.1},{"t":69,"v":3.2},{"t":71,"v":2.5},{"t":73,"v":2},{"t":75,"v":0.8},{"t":77,"v":-0.1},{"t":78,"v":-0.2},{"t":80,"v":0.6},{"t":81,"v":1.3},{"t":83,"v":1.4},{"t":84,"v":1.7},{"t":85,"v":0.5},{"t":87,"v":0},{"t":89,"v":-0.2},{"t":91,"v":-0.3},{"t":93,"v":-0.5},{"t":95,"v":-1.1},{"t":96,"v":-0.9},{"t":98,"v":-0.1}],
"f_n":[{"t":0,"v":-0.1},{"t":5,"v":-0.2},{"t":10,"v":0},{"t":14,"v":0.3},{"t":18,"v":0.6},{"t":20,"v":0.55},{"t":24,"v":0.25},{"t":28,"v":0},{"t":31,"v":-0.15},{"t":34,"v":0.1},{"t":38,"v":0.45},{"t":41,"v":0.5},{"t":44,"v":0.25},{"t":48,"v":0},{"t":52,"v":-0.15},{"t":56,"v":-0.2},{"t":60,"v":0},{"t":64,"v":0.3},{"t":68,"v":0.6},{"t":71,"v":0.45},{"t":74,"v":0.1},{"t":78,"v":-0.2},{"t":81,"v":0.2},{"t":84,"v":0.55},{"t":88,"v":0.3},{"t":92,"v":-0.1},{"t":96,"v":-0.3},{"t":98,"v":-0.3}],
"f_m":[{"k":"m","t":16.6,"v":-10,"v2":5},{"k":"h","t":0,"t2":16.1,"v":-2.75},{"k":"h","t":0,"t2":16.6,"v":-6.3},{"k":"w","t":16.1,"t2":16.1,"v":-2.75},{"k":"w","t":16.1,"t2":16.6,"v":-6.3},{"k":"P","t":28.2,"t2":72.3,"v":-8.4,"v2":-9.5},{"k":"Q","t":50.2,"v":-8.95,"s":"OFF–Spike"},{"k":"K","t":98.8,"v":-8.95,"s":"[16,14]"},{"k":"Z","t":2.9,"v":-9.5,"s":"z16_1"},{"k":"B","t":20,"v":4.05,"s":"16.5"},{"k":"L","t":92,"v":2.84,"s":"f"},{"k":"D","t":28.4,"v":-4.4,"s":"= 1.2 ms"}],
"g":[{"t":0,"v":1.9},{"t":2,"v":1.6},{"t":4,"v":1.5},{"t":5,"v":0.8},{"t":6,"v":-0.2},{"t":8,"v":-1.1},{"t":9,"v":-1.3},{"t":10,"v":-0.9},{"t":11,"v":0},{"t":12,"v":1.2},{"t":13,"v":3},{"t":14,"v":5},{"t":15,"v":8},{"t":16,"v":11},{"t":17,"v":13},{"t":18,"v":14.5},{"t":19,"v":15.5},{"t":20,"v":15.9},{"t":21,"v":16},{"t":22,"v":15.5},{"t":23,"v":14.5},{"t":24,"v":13},{"t":25,"v":11.5},{"t":26,"v":9},{"t":27,"v":6},{"t":28,"v":3.5},{"t":29,"v":2},{"t":30,"v":1},{"t":31,"v":0.2},{"t":33,"v":-0.5},{"t":35,"v":-0.9},{"t":36,"v":-0.5},{"t":37,"v":0.2},{"t":39,"v":0.6},{"t":41,"v":0.7},{"t":43,"v":0.4},{"t":45,"v":-0.3},{"t":47,"v":-0.9},{"t":48,"v":-1.5},{"t":50,"v":-3},{"t":51,"v":-3.8},{"t":52,"v":-4.2},{"t":54,"v":-3.9},{"t":56,"v":-3.5},{"t":58,"v":-3.2},{"t":60,"v":-2.5},{"t":62,"v":-1.9},{"t":64,"v":-1.6},{"t":66,"v":-0.7},{"t":68,"v":-0.1},{"t":70,"v":0.3},{"t":72,"v":-0.5},{"t":74,"v":-1.2},{"t":76,"v":-1.9},{"t":78,"v":-2},{"t":80,"v":-2.3},{"t":82,"v":-1.8},{"t":84,"v":-1.3},{"t":86,"v":-0.5},{"t":88,"v":-0.6},{"t":90,"v":-0.6},{"t":92,"v":-1},{"t":93,"v":-1.6},{"t":95,"v":-2.2},{"t":97,"v":-2},{"t":99,"v":-1.9}],
"g_n":[{"t":0,"v":0},{"t":5,"v":0},{"t":10,"v":0},{"t":14,"v":0.3},{"t":18,"v":0.6},{"t":20,"v":0.6},{"t":24,"v":0.2},{"t":28,"v":0},{"t":32,"v":-0.1},{"t":36,"v":0.3},{"t":40,"v":0.35},{"t":44,"v":0.2},{"t":48,"v":0},{"t":52,"v":-0.1},{"t":56,"v":-0.1},{"t":60,"v":0},{"t":64,"v":0.1},{"t":68,"v":0.5},{"t":70,"v":0.6},{"t":73,"v":0.3},{"t":77,"v":-0.1},{"t":80,"v":0.1},{"t":84,"v":0.4},{"t":87,"v":0.2},{"t":90,"v":0},{"t":95,"v":-0.1},{"t":100,"v":-0.1}],
"g_m":[{"k":"m","t":17.6,"v":-10,"v2":20},{"k":"h","t":0,"t2":17.4,"v":11.3},{"k":"h","t":0,"t2":15.2,"v":4.9},{"k":"w","t":15.2,"t2":17.4,"v":11.3},{"k":"w","t":15.2,"t2":15.2,"v":4.9},{"k":"P","t":27.4,"t2":67.4,"v":-7,"v2":-9.1},{"k":"Q","t":47.4,"v":-8.05,"s":"ON–Spike"},{"k":"K","t":97,"v":-8.05,"s":"[23,15]"},{"k":"Z","t":4,"v":-9,"s":"z16_1"},{"k":"B","t":21.4,"v":18.1,"s":"17.4"},{"k":"L","t":88,"v":16.2,"s":"g"},{"k":"D","t":28.6,"v":8.2,"s":"= 2.3 ms"}],
"h":[{"t":0,"v":0.45},{"t":2,"v":0.4},{"t":4,"v":0.5},{"t":6,"v":0.4},{"t":8,"v":0.35},{"t":10,"v":0.3},{"t":11,"v":0.5},{"t":12,"v":0.9},{"t":13,"v":1.3},{"t":14,"v":2},{"t":15,"v":3},{"t":16,"v":3.7},{"t":17,"v":4.5},{"t":18,"v":5},{"t":19,"v":5.3},{"t":20,"v":5.55},{"t":21,"v":5.7},{"t":22,"v":5.7},{"t":23,"v":5.6},{"t":24,"v":5},{"t":25,"v":4.2},{"t":26,"v":3.5},{"t":27,"v":3.1},{"t":28,"v":3},{"t":29,"v":3.3},{"t":30,"v":3.7},{"t":31,"v":4.2},{"t":32,"v":4.7},{"t":33,"v":5.1},{"t":34,"v":5.4},{"t":35,"v":5.6},{"t":36,"v":5.7},{"t":37,"v":5.2},{"t":38,"v":4.6},{"t":39,"v":4},{"t":40,"v":3.5},{"t":41,"v":3},{"t":42,"v":2.5},{"t":43,"v":2},{"t":44,"v":1.4},{"t":45,"v":0.5},{"t":46,"v":-0.2},{"t":47,"v":-0.8},{"t":48,"v":-1.1},{"t":49,"v":-1.2},{"t":51,"v":-1.25},{"t":53,"v":-1.2},{"t":55,"v":-1.3},{"t":57,"v":-1.25},{"t":59,"v":-1.5},{"t":61,"v":-1.7},{"t":63,"v":-1.9},{"t":65,"v":-2.15},{"t":67,"v":-2.2},{"t":69,"v":-2.1},{"t":71,"v":-2.05},{"t":73,"v":-2.1},{"t":75,"v":-2},{"t":77,"v":-1.9},{"t":79,"v":-1.7},{"t":81,"v":-1.5},{"t":83,"v":-1.3},{"t":85,"v":-1.1},{"t":87,"v":-1.15},{"t":89,"v":-1.1},{"t":91,"v":-1.1},{"t":93,"v":-1.05},{"t":95,"v":-1},{"t":97,"v":-1.05},{"t":98,"v":-1.05}],
"h_n":[{"t":0,"v":-0.15},{"t":5,"v":-0.1},{"t":10,"v":0},{"t":15,"v":0.15},{"t":18,"v":0.2},{"t":22,"v":0.15},{"t":26,"v":0.1},{"t":30,"v":0.05},{"t":34,"v":0.15},{"t":38,"v":0.05},{"t":42,"v":0},{"t":46,"v":-0.1},{"t":50,"v":-0.15},{"t":54,"v":-0.15},{"t":58,"v":-0.05},{"t":62,"v":0.05},{"t":66,"v":0.15},{"t":70,"v":0.2},{"t":74,"v":0.15},{"t":78,"v":0.1},{"t":82,"v":0.2},{"t":86,"v":0.15},{"t":90,"v":0.1},{"t":94,"v":0},{"t":98,"v":-0.15}],
"h_m":[{"k":"m","t":16.8,"v":-4,"v2":8},{"k":"h","t":0,"t2":16.8,"v":4},{"k":"h","t":0,"t2":14,"v":1.7},{"k":"w","t":14,"t2":16.8,"v":4},{"k":"w","t":14,"t2":14,"v":1.7},{"k":"P","t":27.5,"t2":66.8,"v":-2.8,"v2":-3.64},{"k":"Q","t":47.1,"v":-3.22,"s":"ON–Spike"},{"k":"K","t":96.2,"v":-3.22,"s":"[27,14]"},{"k":"Z","t":3.3,"v":-3.6,"s":"z16_4"},{"k":"B","t":20.6,"v":7.25,"s":"16.9"},{"k":"L","t":87.4,"v":6.28,"s":"h"},{"k":"D","t":25.1,"v":2.4,"s":"= 2.8 ms"}]
},
"bounds":"flush","spacing":0,
"vconcat":[
{"hconcat":[
{"width":258,"height":135,"encoding":{"x":{"field":"t","type":"quantitative","scale":{"domain":[-4.875,5.875],"nice":false},"axis":null},"y":{"field":"v","type":"quantitative","scale":{"domain":[-1.077,1.519],"nice":false},"axis":null}},
"layer":[
{"data":{"name":"cb"},"mark":{"type":"rect","strokeWidth":0.6},"encoding":{"x2":{"field":"t2"},"y":{"field":"a","type":"quantitative"},"y2":{"field":"b"},"stroke":{"field":"v","type":"quantitative","legend":null,"scale":{"domain":[-1,-0.885,-0.66,-0.534,-0.374,-0.214,-0.003,0.137,0.297,0.393,0.585,0.84,1],"range":["#000000","#000050","#0808e0","#3000c0","#501060","#900020","#ff1010","#ff7a20","#f0a000","#a8a000","#ffff30","#ffffc0","#ffffff"]}},"color":{"field":"v","type":"quantitative","legend":null,"scale":{"domain":[-1,-0.885,-0.66,-0.534,-0.374,-0.214,-0.003,0.137,0.297,0.393,0.585,0.84,1],"range":["#000000","#000050","#0808e0","#3000c0","#501060","#900020","#ff1010","#ff7a20","#f0a000","#a8a000","#ffff30","#ffffc0","#ffffff"]}}}},
{"data":{"name":"cbb"},"mark":{"type":"rect","fillOpacity":0,"stroke":"#999","strokeWidth":1},"encoding":{"x2":{"field":"t2"},"y":{"field":"a","type":"quantitative"},"y2":{"field":"b"}}},
{"data":{"name":"cbt"},"mark":{"type":"rule","color":"#777"},"encoding":{"x2":{"field":"t2"}}},
{"data":{"name":"an1"},"transform":[{"filter":"datum.k=='A'"}],"mark":{"type":"text","fontSize":46,"fontWeight":"bold","color":"#000"},"encoding":{"text":{"field":"s"}}},
{"data":{"name":"an1"},"transform":[{"filter":"datum.k=='E'"}],"mark":{"type":"text","style":"big"},"encoding":{"text":{"field":"s"}}},
{"data":{"name":"an1"},"transform":[{"filter":"datum.k=='c'"}],"mark":{"type":"text","style":"cap"},"encoding":{"text":{"field":"s"}}},
{"data":{"name":"an1"},"transform":[{"filter":"datum.k=='r'"}],"mark":{"type":"text","style":"cap","align":"center","angle":270},"encoding":{"text":{"field":"s"}}}
]},
{"width":127,"height":135,"resolve":{"scale":{"size":"independent"},"axis":{"x":"independent","y":"independent"}},"encoding":{"x":{"field":"x","type":"quantitative","scale":{"domain":[0,27],"nice":false},"axis":null},"y":{"field":"y","type":"quantitative","scale":{"domain":[0,27],"nice":false},"axis":null}},
"layer":[
{"data":{"values":[{"a":0,"b":27,"v":-0.62}]},"mark":{"type":"rect"},"encoding":{"x":{"field":"a","type":"quantitative","axis":{"values":[0,27],"offset":5,"domain":true,"domainColor":"#666","tickSize":4,"tickColor":"#666","title":"grid pos.","titleFontSize":13,"titlePadding":-15,"labelFontSize":13,"labelPadding":2}},"x2":{"field":"b"},"y":{"field":"a","type":"quantitative","axis":{"values":[0,27],"offset":5,"domain":true,"domainColor":"#666","tickSize":4,"tickColor":"#666","title":"grid pos.","titleFontSize":13,"titlePadding":-12,"labelFontSize":13}},"y2":{"field":"b"},"color":{"field":"v","type":"quantitative","legend":null}}},
{"data":{"name":"h1"},"mark":{"type":"circle","clip":true,"opacity":0.35},"encoding":{"color":{"field":"v","type":"quantitative","legend":null},"size":{"field":"w","type":"quantitative","legend":null,"scale":{"domain":[0,10],"range":[0,480]}}}},
{"data":{"name":"h1"},"mark":{"type":"circle","clip":true,"opacity":0.75},"encoding":{"color":{"field":"v","type":"quantitative","legend":null,"scale":{"domain":[-1,-0.885,-0.66,-0.534,-0.374,-0.214,-0.003,0.137,0.297,0.393,0.585,0.84,1],"range":["#000000","#000050","#0808e0","#3000c0","#501060","#900020","#ff1010","#ff7a20","#f0a000","#a8a000","#ffff30","#ffffc0","#ffffff"]}},"size":{"field":"w","type":"quantitative","legend":null,"scale":{"domain":[0,10],"range":[0,220]}}}},
{"data":{"name":"t1"},"transform":[{"filter":"datum.k=='V'"}],"mark":{"type":"rule","color":"#fff","strokeWidth":1.5,"strokeDash":[2,2]},"encoding":{"y2":{"field":"y2"}}},
{"data":{"name":"t1"},"transform":[{"filter":"datum.k=='H'"}],"mark":{"type":"rule","color":"#fff","strokeWidth":1.5,"strokeDash":[2,2]},"encoding":{"x2":{"field":"x2"}}},
{"data":{"name":"t1"},"transform":[{"filter":"datum.k=='a'"}],"mark":{"type":"line","color":"#fff","strokeWidth":1.5,"interpolate":"monotone"}},
{"data":{"name":"t1"},"transform":[{"filter":"datum.k=='T'"}],"mark":{"type":"point","shape":"triangle","filled":true,"opacity":1,"color":"#fff","size":90,"angle":45}},
{"data":{"name":"t1"},"transform":[{"filter":"datum.k=='o'"}],"mark":{"type":"text","fontSize":12,"color":"#fff","angle":322},"encoding":{"text":{"field":"s"}}},
{"data":{"name":"t1"},"transform":[{"filter":"datum.k=='z'"}],"mark":{"type":"text","fontSize":13,"fontWeight":"bold","color":"#fff"},"encoding":{"text":{"field":"s"}}},
{"data":{"name":"t1"},"transform":[{"filter":"datum.k=='l'"}],"mark":{"type":"text","fontSize":34,"fontWeight":"bold","color":"#fff"},"encoding":{"text":{"field":"s"}}}
]},
{"width":116,"height":135,"data":{"name":"ar1"},"encoding":{"x":{"field":"x","type":"quantitative","scale":{"domain":[0,1],"nice":false},"axis":null},"y":{"field":"y","type":"quantitative","scale":{"domain":[0,12],"nice":false},"axis":null}},
"layer":[
{"transform":[{"filter":"datum.k=='s'"}],"mark":{"type":"rule","color":"#222"},"encoding":{"y2":{"field":"y2"}}},
{"transform":[{"filter":"datum.k=='c'"}],"mark":{"type":"rule","color":"#222"},"encoding":{"x2":{"field":"x2"}}},
{"transform":[{"filter":"datum.k=='u'"}],"mark":{"type":"point","shape":"triangle-up","filled":true,"opacity":1,"color":"#000","size":50}},
{"transform":[{"filter":"datum.k=='d'"}],"mark":{"type":"point","shape":"triangle-down","filled":true,"opacity":1,"color":"#000","size":50}},
{"transform":[{"filter":"datum.k=='l'"}],"mark":{"type":"text","fontSize":14,"fontWeight":"bold","color":"#000"},"encoding":{"text":{"field":"s"}}}
]},
{"width":126,"height":135,"resolve":{"scale":{"size":"independent"}},"encoding":{"x":{"field":"x","type":"quantitative","scale":{"domain":[0,27],"nice":false},"axis":null},"y":{"field":"y","type":"quantitative","scale":{"domain":[0,27],"nice":false},"axis":null}},
"layer":[
{"data":{"values":[{"a":0,"b":27,"v":0.33}]},"mark":{"type":"rect"},"encoding":{"x":{"field":"a","type":"quantitative"},"x2":{"field":"b"},"y":{"field":"a","type":"quantitative"},"y2":{"field":"b"},"color":{"field":"v","type":"quantitative","legend":null}}},
{"data":{"name":"h2"},"mark":{"type":"circle","clip":true,"opacity":0.35},"encoding":{"color":{"field":"v","type":"quantitative","legend":null},"size":{"field":"w","type":"quantitative","legend":null,"scale":{"domain":[0,10],"range":[0,480]}}}},
{"data":{"name":"h2"},"mark":{"type":"circle","clip":true,"opacity":0.75},"encoding":{"color":{"field":"v","type":"quantitative","legend":null,"scale":{"domain":[-1,-0.885,-0.66,-0.534,-0.374,-0.214,-0.003,0.137,0.297,0.393,0.585,0.84,1],"range":["#000000","#000050","#0808e0","#3000c0","#501060","#900020","#ff1010","#ff7a20","#f0a000","#a8a000","#ffff30","#ffffc0","#ffffff"]}},"size":{"field":"w","type":"quantitative","legend":null,"scale":{"domain":[0,10],"range":[0,220]}}}},
{"data":{"name":"t2"},"transform":[{"filter":"datum.k=='V'"}],"mark":{"type":"rule","color":"#fff","strokeWidth":1.5,"strokeDash":[2,2]},"encoding":{"y2":{"field":"y2"}}},
{"data":{"name":"t2"},"transform":[{"filter":"datum.k=='H'"}],"mark":{"type":"rule","color":"#fff","strokeWidth":1.5,"strokeDash":[2,2]},"encoding":{"x2":{"field":"x2"}}},
{"data":{"name":"t2"},"transform":[{"filter":"datum.k=='a'"}],"mark":{"type":"line","color":"#000","strokeWidth":1.5,"interpolate":"monotone"}},
{"data":{"name":"t2"},"transform":[{"filter":"datum.k=='T'"}],"mark":{"type":"point","shape":"triangle","filled":true,"opacity":1,"color":"#000","size":90,"angle":45}},
{"data":{"name":"t2"},"transform":[{"filter":"datum.k=='o'"}],"mark":{"type":"text","fontSize":12,"color":"#000","angle":322},"encoding":{"text":{"field":"s"}}},
{"data":{"name":"t2"},"transform":[{"filter":"datum.k=='z'"}],"mark":{"type":"text","fontSize":13,"fontWeight":"bold","color":"#fff"},"encoding":{"text":{"field":"s"}}},
{"data":{"name":"t2"},"transform":[{"filter":"datum.k=='l'"}],"mark":{"type":"text","fontSize":34,"fontWeight":"bold","color":"#000"},"encoding":{"text":{"field":"s"}}}
]}
],"spacing":0,"bounds":"flush"},
{"width":1,"height":169,"data":{"values":[{}]},"mark":{"type":"text"},"encoding":{}},
{"hconcat":[
{"width":140,"height":191,"view":{"stroke":"#888"},"encoding":{"x":{"field":"t","type":"quantitative","scale":{"domain":[0,100],"nice":false},"axis":null},"y":{"field":"v","type":"quantitative","scale":{"domain":[-20,10],"nice":false},"axis":null}},
"resolve":{"axis":{"x":"independent","y":"independent"}},
"layer":[
{"data":{"name":"a_n"},"mark":{"type":"line","color":"#34348c","strokeWidth":1},"encoding":{"x":{"field":"t","type":"quantitative","axis":{"values":[0,20,40,60,80,100],"title":"time (ms)"}},"y":{"field":"v","type":"quantitative","axis":{"values":[-20,-15,-10,-5,0,5,10],"title":"correlation (a.u.)","titleFontSize":12.5,"titlePadding":-2}}}},
{"data":{"name":"a"},"mark":{"type":"line","color":"#222","strokeWidth":0.9},"encoding":{"x":{"field":"t","type":"quantitative","axis":{"orient":"top","values":[0,20,40,60,80,100],"labels":false,"title":null}},"y":{"field":"v","type":"quantitative","axis":{"orient":"right","values":[-20,-15,-10,-5,0,5,10],"labels":false,"title":null}}}},
{"data":{"name":"a_m"},"transform":[{"filter":"datum.k=='m'"}],"mark":{"type":"rule","color":"#5050c0","strokeWidth":1},"encoding":{"y2":{"field":"v2"}}},
{"data":{"name":"a_m"},"transform":[{"filter":"datum.k=='h'"}],"mark":{"type":"rule","color":"#f04a30","strokeWidth":1.2},"encoding":{"x2":{"field":"t2"}}},
{"data":{"name":"a_m"},"transform":[{"filter":"datum.k=='w'"}],"mark":{"type":"area","orient":"horizontal","color":"#e00010"},"encoding":{"x2":{"field":"t2"}}},
{"data":{"name":"a_m"},"transform":[{"filter":"datum.k=='P'"}],"mark":{"type":"rect","color":"#f2c200","cornerRadius":3},"encoding":{"x2":{"field":"t2"},"y2":{"field":"v2"}}},
{"data":{"name":"a_m"},"transform":[{"filter":"datum.k=='Q'"}],"mark":{"type":"text","style":"Q"},"encoding":{"text":{"field":"s"}}},
{"data":{"name":"a_m"},"transform":[{"filter":"datum.k=='K'"}],"mark":{"type":"text","style":"K"},"encoding":{"text":{"field":"s"}}},
{"data":{"name":"a_m"},"transform":[{"filter":"datum.k=='Z'"}],"mark":{"type":"text","style":"Z"},"encoding":{"text":{"field":"s"}}},
{"data":{"name":"a_m"},"transform":[{"filter":"datum.k=='B'"}],"mark":{"type":"text","style":"B"},"encoding":{"text":{"field":"s"}}},
{"data":{"name":"a_m"},"transform":[{"filter":"datum.k=='L'"}],"mark":{"type":"text","style":"L"},"encoding":{"text":{"field":"s"}}},
{"data":{"name":"a_m"},"transform":[{"filter":"datum.k=='R'"}],"mark":{"type":"text","style":"R"},"encoding":{"text":{"field":"s"}}},
{"data":{"name":"a_m"},"transform":[{"filter":"datum.k=='D'"}],"mark":{"type":"text","style":"dt"},"encoding":{"text":{"value":"dt"}}},
{"data":{"name":"a_m"},"transform":[{"filter":"datum.k=='D'"}],"mark":{"type":"text","style":"sub"},"encoding":{"text":{"value":"30–70"}}},
{"data":{"name":"a_m"},"transform":[{"filter":"datum.k=='D'"}],"mark":{"type":"text","style":"eq"},"encoding":{"text":{"field":"s"}}}
]},
{"width":24,"height":1,"data":{"values":[{}]},"mark":{"type":"text"},"encoding":{}},
{"width":135,"height":191,"view":{"stroke":"#888"},"encoding":{"x":{"field":"t","type":"quantitative","scale":{"domain":[0,100],"nice":false},"axis":null},"y":{"field":"v","type":"quantitative","scale":{"domain":[-5,15],"nice":false},"axis":null}},
"resolve":{"axis":{"x":"independent","y":"independent"}},
"layer":[
{"data":{"name":"b_n"},"mark":{"type":"line","color":"#34348c","strokeWidth":1},"encoding":{"x":{"field":"t","type":"quantitative","axis":{"values":[0,20,40,60,80,100],"title":"time (ms)"}},"y":{"field":"v","type":"quantitative","axis":{"values":[-5,0,5,10,15],"title":null}}}},
{"data":{"name":"b"},"mark":{"type":"line","color":"#222","strokeWidth":0.9},"encoding":{"x":{"field":"t","type":"quantitative","axis":{"orient":"top","values":[0,20,40,60,80,100],"labels":false,"title":null}},"y":{"field":"v","type":"quantitative","axis":{"orient":"right","values":[-5,0,5,10,15],"labels":false,"title":null}}}},
{"data":{"name":"b_m"},"transform":[{"filter":"datum.k=='m'"}],"mark":{"type":"rule","color":"#5050c0","strokeWidth":1},"encoding":{"y2":{"field":"v2"}}},
{"data":{"name":"b_m"},"transform":[{"filter":"datum.k=='h'"}],"mark":{"type":"rule","color":"#f04a30","strokeWidth":1.2},"encoding":{"x2":{"field":"t2"}}},
{"data":{"name":"b_m"},"transform":[{"filter":"datum.k=='w'"}],"mark":{"type":"area","orient":"horizontal","color":"#e00010"},"encoding":{"x2":{"field":"t2"}}},
{"data":{"name":"b_m"},"transform":[{"filter":"datum.k=='P'"}],"mark":{"type":"rect","color":"#79c3f0","cornerRadius":3},"encoding":{"x2":{"field":"t2"},"y2":{"field":"v2"}}},
{"data":{"name":"b_m"},"transform":[{"filter":"datum.k=='Q'"}],"mark":{"type":"text","style":"Q"},"encoding":{"text":{"field":"s"}}},
{"data":{"name":"b_m"},"transform":[{"filter":"datum.k=='K'"}],"mark":{"type":"text","style":"K"},"encoding":{"text":{"field":"s"}}},
{"data":{"name":"b_m"},"transform":[{"filter":"datum.k=='Z'"}],"mark":{"type":"text","style":"Z"},"encoding":{"text":{"field":"s"}}},
{"data":{"name":"b_m"},"transform":[{"filter":"datum.k=='B'"}],"mark":{"type":"text","style":"B"},"encoding":{"text":{"field":"s"}}},
{"data":{"name":"b_m"},"transform":[{"filter":"datum.k=='L'"}],"mark":{"type":"text","style":"L"},"encoding":{"text":{"field":"s"}}},
{"data":{"name":"b_m"},"transform":[{"filter":"datum.k=='D'"}],"mark":{"type":"text","style":"dt"},"encoding":{"text":{"value":"dt"}}},
{"data":{"name":"b_m"},"transform":[{"filter":"datum.k=='D'"}],"mark":{"type":"text","style":"sub"},"encoding":{"text":{"value":"30–70"}}},
{"data":{"name":"b_m"},"transform":[{"filter":"datum.k=='D'"}],"mark":{"type":"text","style":"eq"},"encoding":{"text":{"field":"s"}}}
]},
{"width":31,"height":1,"data":{"values":[{}]},"mark":{"type":"text"},"encoding":{}},
{"width":139,"height":191,"view":{"stroke":"#888"},"encoding":{"x":{"field":"t","type":"quantitative","scale":{"domain":[0,100],"nice":false},"axis":null},"y":{"field":"v","type":"quantitative","scale":{"domain":[-10,25],"nice":false},"axis":null}},
"resolve":{"axis":{"x":"independent","y":"independent"}},
"layer":[
{"data":{"name":"c_n"},"mark":{"type":"line","color":"#34348c","strokeWidth":1},"encoding":{"x":{"field":"t","type":"quantitative","axis":{"values":[0,20,40,60,80,100],"title":"time (ms)"}},"y":{"field":"v","type":"quantitative","axis":{"values":[-10,-5,0,5,10,15,20,25],"title":null}}}},
{"data":{"name":"c"},"mark":{"type":"line","color":"#222","strokeWidth":0.9},"encoding":{"x":{"field":"t","type":"quantitative","axis":{"orient":"top","values":[0,20,40,60,80,100],"labels":false,"title":null}},"y":{"field":"v","type":"quantitative","axis":{"orient":"right","values":[-10,-5,0,5,10,15,20,25],"labels":false,"title":null}}}},
{"data":{"name":"c_m"},"transform":[{"filter":"datum.k=='m'"}],"mark":{"type":"rule","color":"#5050c0","strokeWidth":1},"encoding":{"y2":{"field":"v2"}}},
{"data":{"name":"c_m"},"transform":[{"filter":"datum.k=='h'"}],"mark":{"type":"rule","color":"#f04a30","strokeWidth":1.2},"encoding":{"x2":{"field":"t2"}}},
{"data":{"name":"c_m"},"transform":[{"filter":"datum.k=='w'"}],"mark":{"type":"area","orient":"horizontal","color":"#e00010"},"encoding":{"x2":{"field":"t2"}}},
{"data":{"name":"c_m"},"transform":[{"filter":"datum.k=='P'"}],"mark":{"type":"rect","color":"#79c3f0","cornerRadius":3},"encoding":{"x2":{"field":"t2"},"y2":{"field":"v2"}}},
{"data":{"name":"c_m"},"transform":[{"filter":"datum.k=='Q'"}],"mark":{"type":"text","style":"Q"},"encoding":{"text":{"field":"s"}}},
{"data":{"name":"c_m"},"transform":[{"filter":"datum.k=='K'"}],"mark":{"type":"text","style":"K"},"encoding":{"text":{"field":"s"}}},
{"data":{"name":"c_m"},"transform":[{"filter":"datum.k=='Z'"}],"mark":{"type":"text","style":"Z"},"encoding":{"text":{"field":"s"}}},
{"data":{"name":"c_m"},"transform":[{"filter":"datum.k=='B'"}],"mark":{"type":"text","style":"B"},"encoding":{"text":{"field":"s"}}},
{"data":{"name":"c_m"},"transform":[{"filter":"datum.k=='L'"}],"mark":{"type":"text","style":"L"},"encoding":{"text":{"field":"s"}}},
{"data":{"name":"c_m"},"transform":[{"filter":"datum.k=='D'"}],"mark":{"type":"text","style":"dt"},"encoding":{"text":{"value":"dt"}}},
{"data":{"name":"c_m"},"transform":[{"filter":"datum.k=='D'"}],"mark":{"type":"text","style":"sub"},"encoding":{"text":{"value":"30–70"}}},
{"data":{"name":"c_m"},"transform":[{"filter":"datum.k=='D'"}],"mark":{"type":"text","style":"eq"},"encoding":{"text":{"field":"s"}}}
]},
{"width":27,"height":1,"data":{"values":[{}]},"mark":{"type":"text"},"encoding":{}},
{"width":139,"height":191,"view":{"stroke":"#888"},"encoding":{"x":{"field":"t","type":"quantitative","scale":{"domain":[0,100],"nice":false},"axis":null},"y":{"field":"v","type":"quantitative","scale":{"domain":[-10,4],"nice":false},"axis":null}},
"resolve":{"axis":{"x":"independent","y":"independent"}},
"layer":[
{"data":{"name":"d_n"},"mark":{"type":"line","color":"#34348c","strokeWidth":1},"encoding":{"x":{"field":"t","type":"quantitative","axis":{"values":[0,20,40,60,80,100],"title":"time (ms)"}},"y":{"field":"v","type":"quantitative","axis":{"values":[-10,-8,-6,-4,-2,0,2,4],"title":null}}}},
{"data":{"name":"d"},"mark":{"type":"line","color":"#222","strokeWidth":0.9},"encoding":{"x":{"field":"t","type":"quantitative","axis":{"orient":"top","values":[0,20,40,60,80,100],"labels":false,"title":null}},"y":{"field":"v","type":"quantitative","axis":{"orient":"right","values":[-10,-8,-6,-4,-2,0,2,4],"labels":false,"title":null}}}},
{"data":{"name":"d_m"},"transform":[{"filter":"datum.k=='m'"}],"mark":{"type":"rule","color":"#5050c0","strokeWidth":1},"encoding":{"y2":{"field":"v2"}}},
{"data":{"name":"d_m"},"transform":[{"filter":"datum.k=='h'"}],"mark":{"type":"rule","color":"#f04a30","strokeWidth":1.2},"encoding":{"x2":{"field":"t2"}}},
{"data":{"name":"d_m"},"transform":[{"filter":"datum.k=='w'"}],"mark":{"type":"area","orient":"horizontal","color":"#e00010"},"encoding":{"x2":{"field":"t2"}}},
{"data":{"name":"d_m"},"transform":[{"filter":"datum.k=='P'"}],"mark":{"type":"rect","color":"#79c3f0","cornerRadius":3},"encoding":{"x2":{"field":"t2"},"y2":{"field":"v2"}}},
{"data":{"name":"d_m"},"transform":[{"filter":"datum.k=='Q'"}],"mark":{"type":"text","style":"Q"},"encoding":{"text":{"field":"s"}}},
{"data":{"name":"d_m"},"transform":[{"filter":"datum.k=='K'"}],"mark":{"type":"text","style":"K"},"encoding":{"text":{"field":"s"}}},
{"data":{"name":"d_m"},"transform":[{"filter":"datum.k=='Z'"}],"mark":{"type":"text","style":"Z"},"encoding":{"text":{"field":"s"}}},
{"data":{"name":"d_m"},"transform":[{"filter":"datum.k=='B'"}],"mark":{"type":"text","style":"B"},"encoding":{"text":{"field":"s"}}},
{"data":{"name":"d_m"},"transform":[{"filter":"datum.k=='L'"}],"mark":{"type":"text","style":"L"},"encoding":{"text":{"field":"s"}}},
{"data":{"name":"d_m"},"transform":[{"filter":"datum.k=='D'"}],"mark":{"type":"text","style":"dt"},"encoding":{"text":{"value":"dt"}}},
{"data":{"name":"d_m"},"transform":[{"filter":"datum.k=='D'"}],"mark":{"type":"text","style":"sub"},"encoding":{"text":{"value":"30–70"}}},
{"data":{"name":"d_m"},"transform":[{"filter":"datum.k=='D'"}],"mark":{"type":"text","style":"eq"},"encoding":{"text":{"field":"s"}}}
]}
],"spacing":0,"bounds":"flush"},
{"width":1,"height":236,"data":{"values":[{}]},"mark":{"type":"text"},"encoding":{}},
{"hconcat":[
{"width":171,"height":136,"data":{"name":"an3"},"encoding":{"x":{"field":"t","type":"quantitative","scale":{"domain":[0,1],"nice":false},"axis":null},"y":{"field":"v","type":"quantitative","scale":{"domain":[0,1],"nice":false},"axis":null}},
"layer":[
{"transform":[{"filter":"datum.k=='A'"}],"mark":{"type":"text","fontSize":42,"fontWeight":"bold","color":"#000"},"encoding":{"text":{"field":"s"}}},
{"transform":[{"filter":"datum.k=='E'"}],"mark":{"type":"text","style":"big"},"encoding":{"text":{"field":"s"}}}
]},
{"width":127,"height":136,"resolve":{"scale":{"size":"independent"},"axis":{"x":"independent","y":"independent"}},"encoding":{"x":{"field":"x","type":"quantitative","scale":{"domain":[0,27],"nice":false},"axis":null},"y":{"field":"y","type":"quantitative","scale":{"domain":[0,27],"nice":false},"axis":null}},
"layer":[
{"data":{"values":[{"a":0,"b":27,"v":0.03}]},"mark":{"type":"rect"},"encoding":{"x":{"field":"a","type":"quantitative","axis":{"values":[0,27],"offset":5,"domain":true,"domainColor":"#666","tickSize":4,"tickColor":"#666","title":"grid pos.","titleFontSize":13,"titlePadding":-15,"labelFontSize":13,"labelPadding":2}},"x2":{"field":"b"},"y":{"field":"a","type":"quantitative","axis":{"values":[0,27],"offset":5,"domain":true,"domainColor":"#666","tickSize":4,"tickColor":"#666","title":"grid pos.","titleFontSize":13,"titlePadding":-12,"labelFontSize":13}},"y2":{"field":"b"},"color":{"field":"v","type":"quantitative","legend":null}}},
{"data":{"name":"h3"},"mark":{"type":"circle","clip":true,"opacity":0.35},"encoding":{"color":{"field":"v","type":"quantitative","legend":null},"size":{"field":"w","type":"quantitative","legend":null,"scale":{"domain":[0,10],"range":[0,480]}}}},
{"data":{"name":"h3"},"mark":{"type":"circle","clip":true,"opacity":0.75},"encoding":{"color":{"field":"v","type":"quantitative","legend":null,"scale":{"domain":[-1,-0.885,-0.66,-0.534,-0.374,-0.214,-0.003,0.137,0.297,0.393,0.585,0.84,1],"range":["#000000","#000050","#0808e0","#3000c0","#501060","#900020","#ff1010","#ff7a20","#f0a000","#a8a000","#ffff30","#ffffc0","#ffffff"]}},"size":{"field":"w","type":"quantitative","legend":null,"scale":{"domain":[0,10],"range":[0,220]}}}},
{"data":{"name":"t3"},"transform":[{"filter":"datum.k=='V'"}],"mark":{"type":"rule","color":"#fff","strokeWidth":1.5,"strokeDash":[2,2]},"encoding":{"y2":{"field":"y2"}}},
{"data":{"name":"t3"},"transform":[{"filter":"datum.k=='H'"}],"mark":{"type":"rule","color":"#fff","strokeWidth":1.5,"strokeDash":[2,2]},"encoding":{"x2":{"field":"x2"}}},
{"data":{"name":"t3"},"transform":[{"filter":"datum.k=='a'"}],"mark":{"type":"line","color":"#fff","strokeWidth":1.5}},
{"data":{"name":"t3"},"transform":[{"filter":"datum.k=='T'"}],"mark":{"type":"point","shape":"triangle","filled":true,"opacity":1,"color":"#fff","size":90,"angle":265}},
{"data":{"name":"t3"},"transform":[{"filter":"datum.k=='o'"}],"mark":{"type":"text","fontSize":12,"color":"#fff"},"encoding":{"text":{"field":"s"}}},
{"data":{"name":"t3"},"transform":[{"filter":"datum.k=='z'"}],"mark":{"type":"text","fontSize":13,"fontWeight":"bold","color":"#fff"},"encoding":{"text":{"field":"s"}}},
{"data":{"name":"t3"},"transform":[{"filter":"datum.k=='l'"}],"mark":{"type":"text","fontSize":36,"fontWeight":"bold","color":"#fff"},"encoding":{"text":{"field":"s"}}}
]},
{"width":202,"height":136,"data":{"name":"ar3"},"encoding":{"x":{"field":"x","type":"quantitative","scale":{"domain":[0,1],"nice":false},"axis":null},"y":{"field":"y","type":"quantitative","scale":{"domain":[0,12],"nice":false},"axis":null}},
"layer":[
{"transform":[{"filter":"datum.k=='s'"}],"mark":{"type":"rule","color":"#666","strokeWidth":1.5},"encoding":{"y2":{"field":"y2"}}},
{"transform":[{"filter":"datum.k=='c'"}],"mark":{"type":"rule","color":"#333"},"encoding":{"x2":{"field":"x2"}}},
{"transform":[{"filter":"datum.k=='u'"}],"mark":{"type":"point","shape":"triangle-up","filled":true,"opacity":1,"color":"#000","size":50}},
{"transform":[{"filter":"datum.k=='d'"}],"mark":{"type":"point","shape":"triangle-down","filled":true,"opacity":1,"color":"#000","size":50}},
{"transform":[{"filter":"datum.k=='l'"}],"mark":{"type":"text","fontSize":14,"fontWeight":"bold","color":"#000"},"encoding":{"text":{"field":"s"}}}
]},
{"width":128,"height":136,"resolve":{"scale":{"size":"independent"}},"encoding":{"x":{"field":"x","type":"quantitative","scale":{"domain":[0,27],"nice":false},"axis":null},"y":{"field":"y","type":"quantitative","scale":{"domain":[0,27],"nice":false},"axis":null}},
"layer":[
{"data":{"values":[{"a":0,"b":27,"v":-0.6}]},"mark":{"type":"rect"},"encoding":{"x":{"field":"a","type":"quantitative"},"x2":{"field":"b"},"y":{"field":"a","type":"quantitative"},"y2":{"field":"b"},"color":{"field":"v","type":"quantitative","legend":null}}},
{"data":{"name":"h4"},"mark":{"type":"circle","clip":true,"opacity":0.35},"encoding":{"color":{"field":"v","type":"quantitative","legend":null},"size":{"field":"w","type":"quantitative","legend":null,"scale":{"domain":[0,10],"range":[0,480]}}}},
{"data":{"name":"h4"},"mark":{"type":"circle","clip":true,"opacity":0.75},"encoding":{"color":{"field":"v","type":"quantitative","legend":null,"scale":{"domain":[-1,-0.885,-0.66,-0.534,-0.374,-0.214,-0.003,0.137,0.297,0.393,0.585,0.84,1],"range":["#000000","#000050","#0808e0","#3000c0","#501060","#900020","#ff1010","#ff7a20","#f0a000","#a8a000","#ffff30","#ffffc0","#ffffff"]}},"size":{"field":"w","type":"quantitative","legend":null,"scale":{"domain":[0,10],"range":[0,220]}}}},
{"data":{"name":"t4"},"transform":[{"filter":"datum.k=='V'"}],"mark":{"type":"rule","color":"#fff","strokeWidth":1.5,"strokeDash":[2,2]},"encoding":{"y2":{"field":"y2"}}},
{"data":{"name":"t4"},"transform":[{"filter":"datum.k=='H'"}],"mark":{"type":"rule","color":"#fff","strokeWidth":1.5,"strokeDash":[2,2]},"encoding":{"x2":{"field":"x2"}}},
{"data":{"name":"t4"},"transform":[{"filter":"datum.k=='a'"}],"mark":{"type":"line","color":"#fff","strokeWidth":1.5}},
{"data":{"name":"t4"},"transform":[{"filter":"datum.k=='T'"}],"mark":{"type":"point","shape":"triangle","filled":true,"opacity":1,"color":"#fff","size":90,"angle":265}},
{"data":{"name":"t4"},"transform":[{"filter":"datum.k=='o'"}],"mark":{"type":"text","fontSize":12,"color":"#fff"},"encoding":{"text":{"field":"s"}}},
{"data":{"name":"t4"},"transform":[{"filter":"datum.k=='z'"}],"mark":{"type":"text","fontSize":13,"fontWeight":"bold","color":"#fff"},"encoding":{"text":{"field":"s"}}},
{"data":{"name":"t4"},"transform":[{"filter":"datum.k=='l'"}],"mark":{"type":"text","fontSize":36,"fontWeight":"bold","color":"#fff"},"encoding":{"text":{"field":"s"}}}
]}
],"spacing":0,"bounds":"flush"},
{"width":1,"height":171,"data":{"values":[{}]},"mark":{"type":"text"},"encoding":{}},
{"hconcat":[
{"width":140,"height":192,"view":{"stroke":"#888"},"encoding":{"x":{"field":"t","type":"quantitative","scale":{"domain":[0,100],"nice":false},"axis":null},"y":{"field":"v","type":"quantitative","scale":{"domain":[-15,5],"nice":false},"axis":null}},
"resolve":{"axis":{"x":"independent","y":"independent"}},
"layer":[
{"data":{"name":"e_n"},"mark":{"type":"line","color":"#34348c","strokeWidth":1},"encoding":{"x":{"field":"t","type":"quantitative","axis":{"values":[0,20,40,60,80,100],"title":"time (ms)"}},"y":{"field":"v","type":"quantitative","axis":{"values":[-15,-10,-5,0,5],"title":"correlation (a.u.)","titleFontSize":12.5,"titlePadding":-2}}}},
{"data":{"name":"e"},"mark":{"type":"line","color":"#222","strokeWidth":0.9},"encoding":{"x":{"field":"t","type":"quantitative","axis":{"orient":"top","values":[0,20,40,60,80,100],"labels":false,"title":null}},"y":{"field":"v","type":"quantitative","axis":{"orient":"right","values":[-15,-10,-5,0,5],"labels":false,"title":null}}}},
{"data":{"name":"e_m"},"transform":[{"filter":"datum.k=='m'"}],"mark":{"type":"rule","color":"#b0b0e8","strokeWidth":2.5},"encoding":{"y2":{"field":"v2"}}},
{"data":{"name":"e_m"},"transform":[{"filter":"datum.k=='h'"}],"mark":{"type":"rule","color":"#f04a30","strokeWidth":1.2},"encoding":{"x2":{"field":"t2"}}},
{"data":{"name":"e_m"},"transform":[{"filter":"datum.k=='w'"}],"mark":{"type":"area","orient":"horizontal","color":"#c00020"},"encoding":{"x2":{"field":"t2"}}},
{"data":{"name":"e_m"},"transform":[{"filter":"datum.k=='P'"}],"mark":{"type":"rect","color":"#79c3f0","cornerRadius":3},"encoding":{"x2":{"field":"t2"},"y2":{"field":"v2"}}},
{"data":{"name":"e_m"},"transform":[{"filter":"datum.k=='Q'"}],"mark":{"type":"text","style":"Q"},"encoding":{"text":{"field":"s"}}},
{"data":{"name":"e_m"},"transform":[{"filter":"datum.k=='K'"}],"mark":{"type":"text","style":"K"},"encoding":{"text":{"field":"s"}}},
{"data":{"name":"e_m"},"transform":[{"filter":"datum.k=='Z'"}],"mark":{"type":"text","style":"Z"},"encoding":{"text":{"field":"s"}}},
{"data":{"name":"e_m"},"transform":[{"filter":"datum.k=='B'"}],"mark":{"type":"text","style":"B"},"encoding":{"text":{"field":"s"}}},
{"data":{"name":"e_m"},"transform":[{"filter":"datum.k=='L'"}],"mark":{"type":"text","style":"L"},"encoding":{"text":{"field":"s"}}},
{"data":{"name":"e_m"},"transform":[{"filter":"datum.k=='D'"}],"mark":{"type":"text","style":"dt"},"encoding":{"text":{"value":"dt"}}},
{"data":{"name":"e_m"},"transform":[{"filter":"datum.k=='D'"}],"mark":{"type":"text","style":"sub"},"encoding":{"text":{"value":"30–70"}}},
{"data":{"name":"e_m"},"transform":[{"filter":"datum.k=='D'"}],"mark":{"type":"text","style":"eq"},"encoding":{"text":{"field":"s"}}}
]},
{"width":23,"height":1,"data":{"values":[{}]},"mark":{"type":"text"},"encoding":{}},
{"width":139,"height":192,"view":{"stroke":"#888"},"encoding":{"x":{"field":"t","type":"quantitative","scale":{"domain":[0,100],"nice":false},"axis":null},"y":{"field":"v","type":"quantitative","scale":{"domain":[-10,5],"nice":false},"axis":null}},
"resolve":{"axis":{"x":"independent","y":"independent"}},
"layer":[
{"data":{"name":"f_n"},"mark":{"type":"line","color":"#34348c","strokeWidth":1},"encoding":{"x":{"field":"t","type":"quantitative","axis":{"values":[0,20,40,60,80,100],"title":"time (ms)"}},"y":{"field":"v","type":"quantitative","axis":{"values":[-10,-5,0,5],"title":null}}}},
{"data":{"name":"f"},"mark":{"type":"line","color":"#222","strokeWidth":0.9},"encoding":{"x":{"field":"t","type":"quantitative","axis":{"orient":"top","values":[0,20,40,60,80,100],"labels":false,"title":null}},"y":{"field":"v","type":"quantitative","axis":{"orient":"right","values":[-10,-5,0,5],"labels":false,"title":null}}}},
{"data":{"name":"f_m"},"transform":[{"filter":"datum.k=='m'"}],"mark":{"type":"rule","color":"#6a6acc","strokeWidth":1.5},"encoding":{"y2":{"field":"v2"}}},
{"data":{"name":"f_m"},"transform":[{"filter":"datum.k=='h'"}],"mark":{"type":"rule","color":"#f04a30","strokeWidth":1.2},"encoding":{"x2":{"field":"t2"}}},
{"data":{"name":"f_m"},"transform":[{"filter":"datum.k=='w'"}],"mark":{"type":"area","orient":"horizontal","color":"#c00020"},"encoding":{"x2":{"field":"t2"}}},
{"data":{"name":"f_m"},"transform":[{"filter":"datum.k=='P'"}],"mark":{"type":"rect","color":"#79c3f0","cornerRadius":3},"encoding":{"x2":{"field":"t2"},"y2":{"field":"v2"}}},
{"data":{"name":"f_m"},"transform":[{"filter":"datum.k=='Q'"}],"mark":{"type":"text","style":"Q"},"encoding":{"text":{"field":"s"}}},
{"data":{"name":"f_m"},"transform":[{"filter":"datum.k=='K'"}],"mark":{"type":"text","style":"K"},"encoding":{"text":{"field":"s"}}},
{"data":{"name":"f_m"},"transform":[{"filter":"datum.k=='Z'"}],"mark":{"type":"text","style":"Z"},"encoding":{"text":{"field":"s"}}},
{"data":{"name":"f_m"},"transform":[{"filter":"datum.k=='B'"}],"mark":{"type":"text","style":"B"},"encoding":{"text":{"field":"s"}}},
{"data":{"name":"f_m"},"transform":[{"filter":"datum.k=='L'"}],"mark":{"type":"text","style":"L"},"encoding":{"text":{"field":"s"}}},
{"data":{"name":"f_m"},"transform":[{"filter":"datum.k=='D'"}],"mark":{"type":"text","style":"dt"},"encoding":{"text":{"value":"dt"}}},
{"data":{"name":"f_m"},"transform":[{"filter":"datum.k=='D'"}],"mark":{"type":"text","style":"sub"},"encoding":{"text":{"value":"30–70"}}},
{"data":{"name":"f_m"},"transform":[{"filter":"datum.k=='D'"}],"mark":{"type":"text","style":"eq"},"encoding":{"text":{"field":"s"}}}
]},
{"width":26,"height":1,"data":{"values":[{}]},"mark":{"type":"text"},"encoding":{}},
{"width":140,"height":192,"view":{"stroke":"#888"},"encoding":{"x":{"field":"t","type":"quantitative","scale":{"domain":[0,100],"nice":false},"axis":null},"y":{"field":"v","type":"quantitative","scale":{"domain":[-10,20],"nice":false},"axis":null}},
"resolve":{"axis":{"x":"independent","y":"independent"}},
"layer":[
{"data":{"name":"g_n"},"mark":{"type":"line","color":"#34348c","strokeWidth":1},"encoding":{"x":{"field":"t","type":"quantitative","axis":{"values":[0,20,40,60,80,100],"title":"time (ms)"}},"y":{"field":"v","type":"quantitative","axis":{"values":[-10,-5,0,5,10,15,20],"title":null}}}},
{"data":{"name":"g"},"mark":{"type":"line","color":"#222","strokeWidth":0.9},"encoding":{"x":{"field":"t","type":"quantitative","axis":{"orient":"top","values":[0,20,40,60,80,100],"labels":false,"title":null}},"y":{"field":"v","type":"quantitative","axis":{"orient":"right","values":[-10,-5,0,5,10,15,20],"labels":false,"title":null}}}},
{"data":{"name":"g_m"},"transform":[{"filter":"datum.k=='m'"}],"mark":{"type":"rule","color":"#b0b0e8","strokeWidth":2.5},"encoding":{"y2":{"field":"v2"}}},
{"data":{"name":"g_m"},"transform":[{"filter":"datum.k=='h'"}],"mark":{"type":"rule","color":"#f04a30","strokeWidth":1.2},"encoding":{"x2":{"field":"t2"}}},
{"data":{"name":"g_m"},"transform":[{"filter":"datum.k=='w'"}],"mark":{"type":"area","orient":"horizontal","color":"#e00010"},"encoding":{"x2":{"field":"t2"}}},
{"data":{"name":"g_m"},"transform":[{"filter":"datum.k=='P'"}],"mark":{"type":"rect","color":"#79c3f0","cornerRadius":3},"encoding":{"x2":{"field":"t2"},"y2":{"field":"v2"}}},
{"data":{"name":"g_m"},"transform":[{"filter":"datum.k=='Q'"}],"mark":{"type":"text","style":"Q"},"encoding":{"text":{"field":"s"}}},
{"data":{"name":"g_m"},"transform":[{"filter":"datum.k=='K'"}],"mark":{"type":"text","style":"K"},"encoding":{"text":{"field":"s"}}},
{"data":{"name":"g_m"},"transform":[{"filter":"datum.k=='Z'"}],"mark":{"type":"text","style":"Z"},"encoding":{"text":{"field":"s"}}},
{"data":{"name":"g_m"},"transform":[{"filter":"datum.k=='B'"}],"mark":{"type":"text","style":"B"},"encoding":{"text":{"field":"s"}}},
{"data":{"name":"g_m"},"transform":[{"filter":"datum.k=='L'"}],"mark":{"type":"text","style":"L"},"encoding":{"text":{"field":"s"}}},
{"data":{"name":"g_m"},"transform":[{"filter":"datum.k=='D'"}],"mark":{"type":"text","style":"dt"},"encoding":{"text":{"value":"dt"}}},
{"data":{"name":"g_m"},"transform":[{"filter":"datum.k=='D'"}],"mark":{"type":"text","style":"sub"},"encoding":{"text":{"value":"30–70"}}},
{"data":{"name":"g_m"},"transform":[{"filter":"datum.k=='D'"}],"mark":{"type":"text","style":"eq"},"encoding":{"text":{"field":"s"}}}
]},
{"width":26,"height":1,"data":{"values":[{}]},"mark":{"type":"text"},"encoding":{}},
{"width":140,"height":192,"view":{"stroke":"#888"},"encoding":{"x":{"field":"t","type":"quantitative","scale":{"domain":[0,100],"nice":false},"axis":null},"y":{"field":"v","type":"quantitative","scale":{"domain":[-4,8],"nice":false},"axis":null}},
"resolve":{"axis":{"x":"independent","y":"independent"}},
"layer":[
{"data":{"name":"h_n"},"mark":{"type":"line","color":"#34348c","strokeWidth":1},"encoding":{"x":{"field":"t","type":"quantitative","axis":{"values":[0,20,40,60,80,100],"title":"time (ms)"}},"y":{"field":"v","type":"quantitative","axis":{"values":[-4,-2,0,2,4,6,8],"title":null}}}},
{"data":{"name":"h"},"mark":{"type":"line","color":"#222","strokeWidth":0.9},"encoding":{"x":{"field":"t","type":"quantitative","axis":{"orient":"top","values":[0,20,40,60,80,100],"labels":false,"title":null}},"y":{"field":"v","type":"quantitative","axis":{"orient":"right","values":[-4,-2,0,2,4,6,8],"labels":false,"title":null}}}},
{"data":{"name":"h_m"},"transform":[{"filter":"datum.k=='m'"}],"mark":{"type":"rule","color":"#5050c0","strokeWidth":1},"encoding":{"y2":{"field":"v2"}}},
{"data":{"name":"h_m"},"transform":[{"filter":"datum.k=='h'"}],"mark":{"type":"rule","color":"#f04a30","strokeWidth":1.2},"encoding":{"x2":{"field":"t2"}}},
{"data":{"name":"h_m"},"transform":[{"filter":"datum.k=='w'"}],"mark":{"type":"area","orient":"horizontal","color":"#e00010"},"encoding":{"x2":{"field":"t2"}}},
{"data":{"name":"h_m"},"transform":[{"filter":"datum.k=='P'"}],"mark":{"type":"rect","color":"#79c3f0","cornerRadius":3},"encoding":{"x2":{"field":"t2"},"y2":{"field":"v2"}}},
{"data":{"name":"h_m"},"transform":[{"filter":"datum.k=='Q'"}],"mark":{"type":"text","style":"Q"},"encoding":{"text":{"field":"s"}}},
{"data":{"name":"h_m"},"transform":[{"filter":"datum.k=='K'"}],"mark":{"type":"text","style":"K"},"encoding":{"text":{"field":"s"}}},
{"data":{"name":"h_m"},"transform":[{"filter":"datum.k=='Z'"}],"mark":{"type":"text","style":"Z"},"encoding":{"text":{"field":"s"}}},
{"data":{"name":"h_m"},"transform":[{"filter":"datum.k=='B'"}],"mark":{"type":"text","style":"B"},"encoding":{"text":{"field":"s"}}},
{"data":{"name":"h_m"},"transform":[{"filter":"datum.k=='L'"}],"mark":{"type":"text","style":"L"},"encoding":{"text":{"field":"s"}}},
{"data":{"name":"h_m"},"transform":[{"filter":"datum.k=='D'"}],"mark":{"type":"text","style":"dt"},"encoding":{"text":{"value":"dt"}}},
{"data":{"name":"h_m"},"transform":[{"filter":"datum.k=='D'"}],"mark":{"type":"text","style":"sub"},"encoding":{"text":{"value":"30–70"}}},
{"data":{"name":"h_m"},"transform":[{"filter":"datum.k=='D'"}],"mark":{"type":"text","style":"eq"},"encoding":{"text":{"field":"s"}}}
]}
],"spacing":0,"bounds":"flush"}
]}
